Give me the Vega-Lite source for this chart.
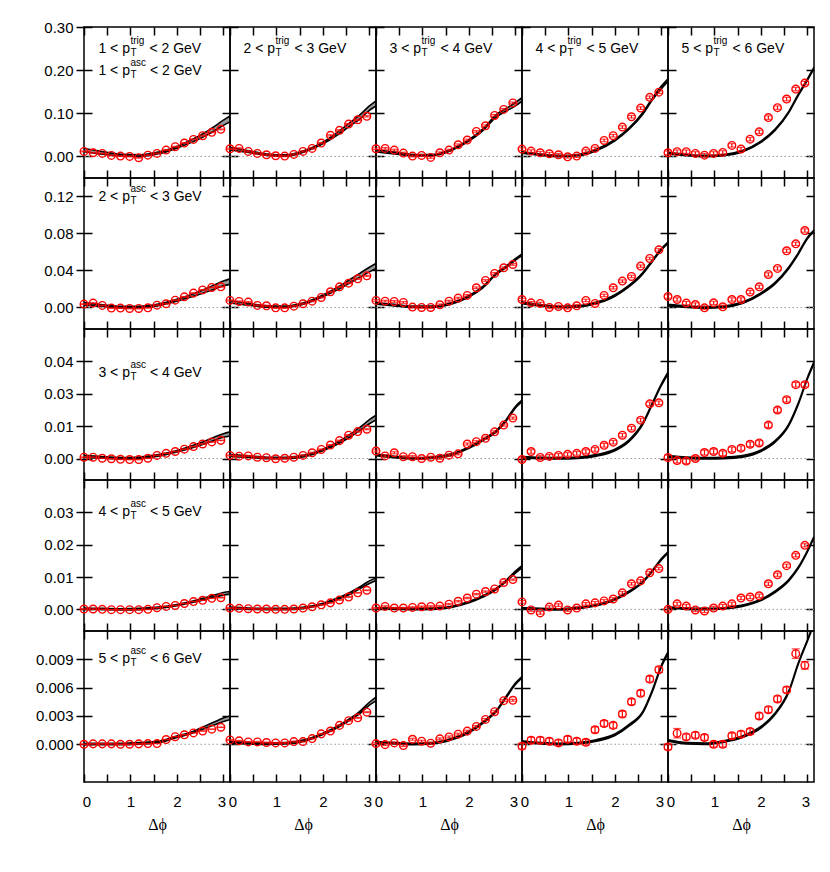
{
"$schema":"https://vega.github.io/schema/vega-lite/v6.json",
"background":"white",
"padding":{"left":34,"top":19,"right":5,"bottom":5},
"columns":5,"spacing":0,"bounds":"flush",
"config":{"view":{"stroke":"black","strokeWidth":1.5},
"axis":{"domain":false,"grid":false,"tickColor":"black","tickWidth":1.5,"tickSize":8,"labelFont":"Liberation Sans","labelFontSize":15,"labelColor":"black","labelFlush":false,"labelOverlap":false,"labelBound":false},
"text":{"font":"Liberation Sans","fontSize":14,"align":"left","baseline":"alphabetic","color":"black"}},
"datasets":{
"P":[
{"p":"11","x":0,"y":0.0116,"e":0.001},{"p":"11","x":0.196,"y":0.0085,"e":0.001},{"p":"11","x":0.393,"y":0.007,"e":0.001},{"p":"11","x":0.589,"y":0.0023,"e":0.001},{"p":"11","x":0.785,"y":0.0008,"e":0.001},{"p":"11","x":0.982,"y":0,"e":0.001},{"p":"11","x":1.178,"y":-0.003,"e":0.001},{"p":"11","x":1.374,"y":0.003,"e":0.001},{"p":"11","x":1.571,"y":0.007,"e":0.001},{"p":"11","x":1.767,"y":0.0147,"e":0.001},{"p":"11","x":1.963,"y":0.0225,"e":0.001},{"p":"11","x":2.16,"y":0.031,"e":0.001},{"p":"11","x":2.356,"y":0.0395,"e":0.001},{"p":"11","x":2.553,"y":0.048,"e":0.001},{"p":"11","x":2.749,"y":0.0558,"e":0.001},{"p":"11","x":2.945,"y":0.0628,"e":0.001},
{"p":"12","x":0,"y":0.0178,"e":0.0015},{"p":"12","x":0.196,"y":0.0186,"e":0.0015},{"p":"12","x":0.393,"y":0.0116,"e":0.0015},{"p":"12","x":0.589,"y":0.007,"e":0.0015},{"p":"12","x":0.785,"y":0.0039,"e":0.0015},{"p":"12","x":0.982,"y":0.0016,"e":0.0015},{"p":"12","x":1.178,"y":0.0008,"e":0.0015},{"p":"12","x":1.374,"y":0.0047,"e":0.0015},{"p":"12","x":1.571,"y":0.0116,"e":0.0015},{"p":"12","x":1.767,"y":0.0186,"e":0.0015},{"p":"12","x":1.963,"y":0.031,"e":0.0015},{"p":"12","x":2.16,"y":0.0488,"e":0.0015},{"p":"12","x":2.356,"y":0.0605,"e":0.0015},{"p":"12","x":2.553,"y":0.075,"e":0.0015},{"p":"12","x":2.749,"y":0.085,"e":0.0015},{"p":"12","x":2.945,"y":0.093,"e":0.0015},
{"p":"13","x":0,"y":0.0178,"e":0.002},{"p":"13","x":0.196,"y":0.0186,"e":0.002},{"p":"13","x":0.393,"y":0.0147,"e":0.002},{"p":"13","x":0.589,"y":0.0078,"e":0.002},{"p":"13","x":0.785,"y":0.0008,"e":0.002},{"p":"13","x":0.982,"y":0.0023,"e":0.002},{"p":"13","x":1.178,"y":-0.0023,"e":0.002},{"p":"13","x":1.374,"y":0.0085,"e":0.002},{"p":"13","x":1.571,"y":0.0147,"e":0.002},{"p":"13","x":1.767,"y":0.027,"e":0.002},{"p":"13","x":1.963,"y":0.038,"e":0.002},{"p":"13","x":2.16,"y":0.058,"e":0.002},{"p":"13","x":2.356,"y":0.071,"e":0.002},{"p":"13","x":2.553,"y":0.095,"e":0.002},{"p":"13","x":2.749,"y":0.109,"e":0.002},{"p":"13","x":2.945,"y":0.124,"e":0.002},
{"p":"14","x":0,"y":0.017,"e":0.003},{"p":"14","x":0.196,"y":0.0124,"e":0.003},{"p":"14","x":0.393,"y":0.0085,"e":0.003},{"p":"14","x":0.589,"y":0.0062,"e":0.003},{"p":"14","x":0.785,"y":0.0039,"e":0.003},{"p":"14","x":0.982,"y":-0.0008,"e":0.003},{"p":"14","x":1.178,"y":0.0008,"e":0.003},{"p":"14","x":1.374,"y":0.0124,"e":0.003},{"p":"14","x":1.571,"y":0.0186,"e":0.003},{"p":"14","x":1.767,"y":0.037,"e":0.003},{"p":"14","x":1.963,"y":0.048,"e":0.003},{"p":"14","x":2.16,"y":0.068,"e":0.003},{"p":"14","x":2.356,"y":0.092,"e":0.003},{"p":"14","x":2.553,"y":0.112,"e":0.003},{"p":"14","x":2.749,"y":0.137,"e":0.003},{"p":"14","x":2.945,"y":0.149,"e":0.003},
{"p":"15","x":0,"y":0.0085,"e":0.004},{"p":"15","x":0.196,"y":0.011,"e":0.004},{"p":"15","x":0.393,"y":0.011,"e":0.004},{"p":"15","x":0.589,"y":0.007,"e":0.004},{"p":"15","x":0.785,"y":0.003,"e":0.004},{"p":"15","x":0.982,"y":0.007,"e":0.004},{"p":"15","x":1.178,"y":0.0093,"e":0.004},{"p":"15","x":1.374,"y":0.0256,"e":0.004},{"p":"15","x":1.571,"y":0.017,"e":0.004},{"p":"15","x":1.767,"y":0.04,"e":0.004},{"p":"15","x":1.963,"y":0.057,"e":0.004},{"p":"15","x":2.16,"y":0.09,"e":0.004},{"p":"15","x":2.356,"y":0.113,"e":0.004},{"p":"15","x":2.553,"y":0.133,"e":0.004},{"p":"15","x":2.749,"y":0.156,"e":0.004},{"p":"15","x":2.945,"y":0.17,"e":0.004},
{"p":"21","x":0,"y":0.0036,"e":0.0004},{"p":"21","x":0.196,"y":0.0047,"e":0.0004},{"p":"21","x":0.393,"y":0.0022,"e":0.0004},{"p":"21","x":0.589,"y":-0.0007,"e":0.0004},{"p":"21","x":0.785,"y":-0.0007,"e":0.0004},{"p":"21","x":0.982,"y":-0.0011,"e":0.0004},{"p":"21","x":1.178,"y":-0.0011,"e":0.0004},{"p":"21","x":1.374,"y":-0.0004,"e":0.0004},{"p":"21","x":1.571,"y":0.0025,"e":0.0004},{"p":"21","x":1.767,"y":0.004,"e":0.0004},{"p":"21","x":1.963,"y":0.0079,"e":0.0004},{"p":"21","x":2.16,"y":0.0115,"e":0.0004},{"p":"21","x":2.356,"y":0.0155,"e":0.0004},{"p":"21","x":2.553,"y":0.019,"e":0.0004},{"p":"21","x":2.749,"y":0.0216,"e":0.0004},{"p":"21","x":2.945,"y":0.0223,"e":0.0004},
{"p":"22","x":0,"y":0.0076,"e":0.0006},{"p":"22","x":0.196,"y":0.0065,"e":0.0006},{"p":"22","x":0.393,"y":0.0058,"e":0.0006},{"p":"22","x":0.589,"y":0.0022,"e":0.0006},{"p":"22","x":0.785,"y":0.0018,"e":0.0006},{"p":"22","x":0.982,"y":-0.0004,"e":0.0006},{"p":"22","x":1.178,"y":-0.0004,"e":0.0006},{"p":"22","x":1.374,"y":0.0014,"e":0.0006},{"p":"22","x":1.571,"y":0.004,"e":0.0006},{"p":"22","x":1.767,"y":0.0068,"e":0.0006},{"p":"22","x":1.963,"y":0.0108,"e":0.0006},{"p":"22","x":2.16,"y":0.017,"e":0.0006},{"p":"22","x":2.356,"y":0.0223,"e":0.0006},{"p":"22","x":2.553,"y":0.0263,"e":0.0006},{"p":"22","x":2.749,"y":0.031,"e":0.0006},{"p":"22","x":2.945,"y":0.0342,"e":0.0006},
{"p":"23","x":0,"y":0.0076,"e":0.0009},{"p":"23","x":0.196,"y":0.0068,"e":0.0009},{"p":"23","x":0.393,"y":0.0065,"e":0.0009},{"p":"23","x":0.589,"y":0.0054,"e":0.0009},{"p":"23","x":0.785,"y":0.0004,"e":0.0009},{"p":"23","x":0.982,"y":0,"e":0.0009},{"p":"23","x":1.178,"y":0,"e":0.0009},{"p":"23","x":1.374,"y":0.0029,"e":0.0009},{"p":"23","x":1.571,"y":0.0068,"e":0.0009},{"p":"23","x":1.767,"y":0.0101,"e":0.0009},{"p":"23","x":1.963,"y":0.013,"e":0.0009},{"p":"23","x":2.16,"y":0.0213,"e":0.0009},{"p":"23","x":2.356,"y":0.0292,"e":0.0009},{"p":"23","x":2.553,"y":0.0368,"e":0.0009},{"p":"23","x":2.749,"y":0.0429,"e":0.0009},{"p":"23","x":2.945,"y":0.0465,"e":0.0009},
{"p":"24","x":0,"y":0.0086,"e":0.0013},{"p":"24","x":0.196,"y":0.005,"e":0.0013},{"p":"24","x":0.393,"y":0.0043,"e":0.0013},{"p":"24","x":0.589,"y":0,"e":0.0013},{"p":"24","x":0.785,"y":0.0011,"e":0.0013},{"p":"24","x":0.982,"y":-0.0004,"e":0.0013},{"p":"24","x":1.178,"y":0.0018,"e":0.0013},{"p":"24","x":1.374,"y":0.0076,"e":0.0013},{"p":"24","x":1.571,"y":0.0043,"e":0.0013},{"p":"24","x":1.767,"y":0.013,"e":0.0013},{"p":"24","x":1.963,"y":0.0213,"e":0.0013},{"p":"24","x":2.16,"y":0.0285,"e":0.0013},{"p":"24","x":2.356,"y":0.0335,"e":0.0013},{"p":"24","x":2.553,"y":0.0447,"e":0.0013},{"p":"24","x":2.749,"y":0.053,"e":0.0013},{"p":"24","x":2.945,"y":0.0623,"e":0.0013},
{"p":"25","x":0,"y":0.0119,"e":0.0018},{"p":"25","x":0.196,"y":0.0086,"e":0.0018},{"p":"25","x":0.393,"y":0.0047,"e":0.0018},{"p":"25","x":0.589,"y":0.0032,"e":0.0018},{"p":"25","x":0.785,"y":-0.0004,"e":0.0018},{"p":"25","x":0.982,"y":0.005,"e":0.0018},{"p":"25","x":1.178,"y":0.0007,"e":0.0018},{"p":"25","x":1.374,"y":0.0086,"e":0.0018},{"p":"25","x":1.571,"y":0.0086,"e":0.0018},{"p":"25","x":1.767,"y":0.0166,"e":0.0018},{"p":"25","x":1.963,"y":0.0223,"e":0.0018},{"p":"25","x":2.16,"y":0.0357,"e":0.0018},{"p":"25","x":2.356,"y":0.0422,"e":0.0018},{"p":"25","x":2.553,"y":0.0613,"e":0.0018},{"p":"25","x":2.749,"y":0.0688,"e":0.0018},{"p":"25","x":2.945,"y":0.0832,"e":0.0018},
{"p":"31","x":0,"y":0.0005,"e":0.0001},{"p":"31","x":0.196,"y":0.0005,"e":0.0001},{"p":"31","x":0.393,"y":0.0001,"e":0.0001},{"p":"31","x":0.589,"y":-0.0001,"e":0.0001},{"p":"31","x":0.785,"y":-0.0003,"e":0.0001},{"p":"31","x":0.982,"y":-0.0004,"e":0.0001},{"p":"31","x":1.178,"y":-0.0004,"e":0.0001},{"p":"31","x":1.374,"y":0.0001,"e":0.0001},{"p":"31","x":1.571,"y":0.0012,"e":0.0001},{"p":"31","x":1.767,"y":0.002,"e":0.0001},{"p":"31","x":1.963,"y":0.0027,"e":0.0001},{"p":"31","x":2.16,"y":0.0036,"e":0.0001},{"p":"31","x":2.356,"y":0.0046,"e":0.0001},{"p":"31","x":2.553,"y":0.0056,"e":0.0001},{"p":"31","x":2.749,"y":0.0064,"e":0.0001},{"p":"31","x":2.945,"y":0.007,"e":0.0001},
{"p":"32","x":0,"y":0.0012,"e":0.0002},{"p":"32","x":0.196,"y":0.0009,"e":0.0002},{"p":"32","x":0.393,"y":0.001,"e":0.0002},{"p":"32","x":0.589,"y":0.0005,"e":0.0002},{"p":"32","x":0.785,"y":0.0003,"e":0.0002},{"p":"32","x":0.982,"y":-0.0001,"e":0.0002},{"p":"32","x":1.178,"y":0.0001,"e":0.0002},{"p":"32","x":1.374,"y":0.0005,"e":0.0002},{"p":"32","x":1.571,"y":0.0012,"e":0.0002},{"p":"32","x":1.767,"y":0.0022,"e":0.0002},{"p":"32","x":1.963,"y":0.0035,"e":0.0002},{"p":"32","x":2.16,"y":0.0052,"e":0.0002},{"p":"32","x":2.356,"y":0.0069,"e":0.0002},{"p":"32","x":2.553,"y":0.009,"e":0.0002},{"p":"32","x":2.749,"y":0.0104,"e":0.0002},{"p":"32","x":2.945,"y":0.0113,"e":0.0002},
{"p":"33","x":0,"y":0.0029,"e":0.0004},{"p":"33","x":0.196,"y":0.001,"e":0.0004},{"p":"33","x":0.393,"y":0.0022,"e":0.0004},{"p":"33","x":0.589,"y":0.0007,"e":0.0004},{"p":"33","x":0.785,"y":0.0007,"e":0.0004},{"p":"33","x":0.982,"y":0,"e":0.0004},{"p":"33","x":1.178,"y":0.0005,"e":0.0004},{"p":"33","x":1.374,"y":0.0001,"e":0.0004},{"p":"33","x":1.571,"y":0.0013,"e":0.0004},{"p":"33","x":1.767,"y":0.0018,"e":0.0004},{"p":"33","x":1.963,"y":0.0056,"e":0.0004},{"p":"33","x":2.16,"y":0.0065,"e":0.0004},{"p":"33","x":2.356,"y":0.0078,"e":0.0004},{"p":"33","x":2.553,"y":0.0103,"e":0.0004},{"p":"33","x":2.749,"y":0.0129,"e":0.0004},{"p":"33","x":2.945,"y":0.0156,"e":0.0004},
{"p":"34","x":0,"y":-0.0004,"e":0.0007},{"p":"34","x":0.196,"y":0.0027,"e":0.0007},{"p":"34","x":0.393,"y":0.0004,"e":0.0007},{"p":"34","x":0.589,"y":0.0008,"e":0.0007},{"p":"34","x":0.785,"y":0.0012,"e":0.0007},{"p":"34","x":0.982,"y":0.0016,"e":0.0007},{"p":"34","x":1.178,"y":0.002,"e":0.0007},{"p":"34","x":1.374,"y":0.0027,"e":0.0007},{"p":"34","x":1.571,"y":0.0035,"e":0.0007},{"p":"34","x":1.767,"y":0.0051,"e":0.0007},{"p":"34","x":1.963,"y":0.0063,"e":0.0007},{"p":"34","x":2.16,"y":0.009,"e":0.0007},{"p":"34","x":2.356,"y":0.0117,"e":0.0007},{"p":"34","x":2.553,"y":0.0148,"e":0.0007},{"p":"34","x":2.749,"y":0.0211,"e":0.0007},{"p":"34","x":2.945,"y":0.0215,"e":0.0007},
{"p":"35","x":0,"y":0.0004,"e":0.0009},{"p":"35","x":0.196,"y":-0.0008,"e":0.0009},{"p":"35","x":0.393,"y":-0.001,"e":0.0009},{"p":"35","x":0.589,"y":0,"e":0.0009},{"p":"35","x":0.785,"y":0.0023,"e":0.0009},{"p":"35","x":0.982,"y":0.0027,"e":0.0009},{"p":"35","x":1.178,"y":0.002,"e":0.0009},{"p":"35","x":1.374,"y":0.0035,"e":0.0009},{"p":"35","x":1.571,"y":0.004,"e":0.0009},{"p":"35","x":1.767,"y":0.0055,"e":0.0009},{"p":"35","x":1.963,"y":0.006,"e":0.0009},{"p":"35","x":2.16,"y":0.0129,"e":0.0009},{"p":"35","x":2.356,"y":0.0187,"e":0.0009},{"p":"35","x":2.553,"y":0.0227,"e":0.0009},{"p":"35","x":2.749,"y":0.0285,"e":0.0009},{"p":"35","x":2.945,"y":0.0285,"e":0.0009},
{"p":"41","x":0,"y":0.0001,"e":0.00005},{"p":"41","x":0.196,"y":0.0001,"e":0.00005},{"p":"41","x":0.393,"y":0,"e":0.00005},{"p":"41","x":0.589,"y":-0.0001,"e":0.00005},{"p":"41","x":0.785,"y":-0.0001,"e":0.00005},{"p":"41","x":0.982,"y":-0.0001,"e":0.00005},{"p":"41","x":1.178,"y":-0.0001,"e":0.00005},{"p":"41","x":1.374,"y":0,"e":0.00005},{"p":"41","x":1.571,"y":0.0005,"e":0.00005},{"p":"41","x":1.767,"y":0.0009,"e":0.00005},{"p":"41","x":1.963,"y":0.0012,"e":0.00005},{"p":"41","x":2.16,"y":0.0018,"e":0.00005},{"p":"41","x":2.356,"y":0.0024,"e":0.00005},{"p":"41","x":2.553,"y":0.0028,"e":0.00005},{"p":"41","x":2.749,"y":0.0034,"e":0.00005},{"p":"41","x":2.945,"y":0.0036,"e":0.00005},
{"p":"42","x":0,"y":0.0004,"e":0.0001},{"p":"42","x":0.196,"y":0.0003,"e":0.0001},{"p":"42","x":0.393,"y":0.0002,"e":0.0001},{"p":"42","x":0.589,"y":0.0001,"e":0.0001},{"p":"42","x":0.785,"y":0.0001,"e":0.0001},{"p":"42","x":0.982,"y":0,"e":0.0001},{"p":"42","x":1.178,"y":0,"e":0.0001},{"p":"42","x":1.374,"y":0.0001,"e":0.0001},{"p":"42","x":1.571,"y":0.0004,"e":0.0001},{"p":"42","x":1.767,"y":0.0008,"e":0.0001},{"p":"42","x":1.963,"y":0.0014,"e":0.0001},{"p":"42","x":2.16,"y":0.002,"e":0.0001},{"p":"42","x":2.356,"y":0.0029,"e":0.0001},{"p":"42","x":2.553,"y":0.0038,"e":0.0001},{"p":"42","x":2.749,"y":0.0051,"e":0.0001},{"p":"42","x":2.945,"y":0.0059,"e":0.0001},
{"p":"43","x":0,"y":0.0004,"e":0.0002},{"p":"43","x":0.196,"y":0.0009,"e":0.0002},{"p":"43","x":0.393,"y":0.0004,"e":0.0002},{"p":"43","x":0.589,"y":0.0004,"e":0.0002},{"p":"43","x":0.785,"y":0.0006,"e":0.0002},{"p":"43","x":0.982,"y":0.0008,"e":0.0002},{"p":"43","x":1.178,"y":0.0009,"e":0.0002},{"p":"43","x":1.374,"y":0.001,"e":0.0002},{"p":"43","x":1.571,"y":0.0016,"e":0.0002},{"p":"43","x":1.767,"y":0.0025,"e":0.0002},{"p":"43","x":1.963,"y":0.0035,"e":0.0002},{"p":"43","x":2.16,"y":0.0047,"e":0.0002},{"p":"43","x":2.356,"y":0.0055,"e":0.0002},{"p":"43","x":2.553,"y":0.0063,"e":0.0002},{"p":"43","x":2.749,"y":0.0083,"e":0.0002},{"p":"43","x":2.945,"y":0.0092,"e":0.0002},
{"p":"44","x":0,"y":0.0023,"e":0.0004},{"p":"44","x":0.196,"y":-0.0002,"e":0.0004},{"p":"44","x":0.393,"y":-0.0011,"e":0.0004},{"p":"44","x":0.589,"y":0.0007,"e":0.0004},{"p":"44","x":0.785,"y":0.0013,"e":0.0004},{"p":"44","x":0.982,"y":-0.0002,"e":0.0004},{"p":"44","x":1.178,"y":0.0004,"e":0.0004},{"p":"44","x":1.374,"y":0.0017,"e":0.0004},{"p":"44","x":1.571,"y":0.002,"e":0.0004},{"p":"44","x":1.767,"y":0.0026,"e":0.0004},{"p":"44","x":1.963,"y":0.0032,"e":0.0004},{"p":"44","x":2.16,"y":0.0051,"e":0.0004},{"p":"44","x":2.356,"y":0.0079,"e":0.0004},{"p":"44","x":2.553,"y":0.0088,"e":0.0004},{"p":"44","x":2.749,"y":0.0113,"e":0.0004},{"p":"44","x":2.945,"y":0.0126,"e":0.0004},
{"p":"45","x":0,"y":0,"e":0.0005},{"p":"45","x":0.196,"y":0.0017,"e":0.0005},{"p":"45","x":0.393,"y":0.001,"e":0.0005},{"p":"45","x":0.589,"y":-0.0002,"e":0.0005},{"p":"45","x":0.785,"y":-0.0005,"e":0.0005},{"p":"45","x":0.982,"y":0.0004,"e":0.0005},{"p":"45","x":1.178,"y":0.001,"e":0.0005},{"p":"45","x":1.374,"y":0.0017,"e":0.0005},{"p":"45","x":1.571,"y":0.0035,"e":0.0005},{"p":"45","x":1.767,"y":0.0038,"e":0.0005},{"p":"45","x":1.963,"y":0.0042,"e":0.0005},{"p":"45","x":2.16,"y":0.0079,"e":0.0005},{"p":"45","x":2.356,"y":0.0107,"e":0.0005},{"p":"45","x":2.553,"y":0.0135,"e":0.0005},{"p":"45","x":2.749,"y":0.0167,"e":0.0005},{"p":"45","x":2.945,"y":0.0198,"e":0.0005},
{"p":"51","x":0,"y":0,"e":0.00002},{"p":"51","x":0.196,"y":0.00004,"e":0.00002},{"p":"51","x":0.393,"y":0.00004,"e":0.00002},{"p":"51","x":0.589,"y":0.00004,"e":0.00002},{"p":"51","x":0.785,"y":0,"e":0.00002},{"p":"51","x":0.982,"y":0,"e":0.00002},{"p":"51","x":1.178,"y":0.00004,"e":0.00002},{"p":"51","x":1.374,"y":0.00007,"e":0.00002},{"p":"51","x":1.571,"y":0.00007,"e":0.00002},{"p":"51","x":1.767,"y":0.0005,"e":0.00002},{"p":"51","x":1.963,"y":0.0008,"e":0.00002},{"p":"51","x":2.16,"y":0.001,"e":0.00002},{"p":"51","x":2.356,"y":0.0012,"e":0.00002},{"p":"51","x":2.553,"y":0.0014,"e":0.00002},{"p":"51","x":2.749,"y":0.0016,"e":0.00002},{"p":"51","x":2.945,"y":0.0018,"e":0.00002},
{"p":"52","x":0,"y":0.00046,"e":0.00005},{"p":"52","x":0.196,"y":0.00036,"e":0.00005},{"p":"52","x":0.393,"y":0.00025,"e":0.00005},{"p":"52","x":0.589,"y":0.00025,"e":0.00005},{"p":"52","x":0.785,"y":0.00018,"e":0.00005},{"p":"52","x":0.982,"y":0.00014,"e":0.00005},{"p":"52","x":1.178,"y":0.00014,"e":0.00005},{"p":"52","x":1.374,"y":0.00028,"e":0.00005},{"p":"52","x":1.571,"y":0.00028,"e":0.00005},{"p":"52","x":1.767,"y":0.0006,"e":0.00005},{"p":"52","x":1.963,"y":0.0011,"e":0.00005},{"p":"52","x":2.16,"y":0.0014,"e":0.00005},{"p":"52","x":2.356,"y":0.002,"e":0.00005},{"p":"52","x":2.553,"y":0.0025,"e":0.00005},{"p":"52","x":2.749,"y":0.0028,"e":0.00005},{"p":"52","x":2.945,"y":0.0034,"e":0.00005},
{"p":"53","x":0,"y":0.00007,"e":0.0001},{"p":"53","x":0.196,"y":-0.00004,"e":0.0001},{"p":"53","x":0.393,"y":0.00014,"e":0.0001},{"p":"53","x":0.589,"y":-0.00014,"e":0.0001},{"p":"53","x":0.785,"y":0.00053,"e":0.0001},{"p":"53","x":0.982,"y":0.00032,"e":0.0001},{"p":"53","x":1.178,"y":0.00011,"e":0.0001},{"p":"53","x":1.374,"y":0.00057,"e":0.0001},{"p":"53","x":1.571,"y":0.00078,"e":0.0001},{"p":"53","x":1.767,"y":0.00107,"e":0.0001},{"p":"53","x":1.963,"y":0.00139,"e":0.0001},{"p":"53","x":2.16,"y":0.00189,"e":0.0001},{"p":"53","x":2.356,"y":0.00263,"e":0.0001},{"p":"53","x":2.553,"y":0.00345,"e":0.0001},{"p":"53","x":2.749,"y":0.00462,"e":0.0001},{"p":"53","x":2.945,"y":0.00466,"e":0.0001},
{"p":"54","x":0,"y":-0.0002,"e":0.0003},{"p":"54","x":0.196,"y":0.00043,"e":0.0003},{"p":"54","x":0.393,"y":0.00043,"e":0.0003},{"p":"54","x":0.589,"y":0.00032,"e":0.0003},{"p":"54","x":0.785,"y":0.00014,"e":0.0003},{"p":"54","x":0.982,"y":0.00053,"e":0.0003},{"p":"54","x":1.178,"y":0.00032,"e":0.0003},{"p":"54","x":1.374,"y":0.00021,"e":0.0003},{"p":"54","x":1.571,"y":0.00153,"e":0.0003},{"p":"54","x":1.767,"y":0.0022,"e":0.0003},{"p":"54","x":1.963,"y":0.002,"e":0.0003},{"p":"54","x":2.16,"y":0.0032,"e":0.0003},{"p":"54","x":2.356,"y":0.0045,"e":0.0003},{"p":"54","x":2.553,"y":0.0054,"e":0.0003},{"p":"54","x":2.749,"y":0.0069,"e":0.0003},{"p":"54","x":2.945,"y":0.0079,"e":0.0003},
{"p":"55","x":0,"y":-0.00028,"e":0.0003},{"p":"55","x":0.196,"y":0.00117,"e":0.0005},{"p":"55","x":0.393,"y":0.00078,"e":0.0003},{"p":"55","x":0.589,"y":0.00096,"e":0.0003},{"p":"55","x":0.785,"y":0.00071,"e":0.0003},{"p":"55","x":0.982,"y":0,"e":0.0003},{"p":"55","x":1.178,"y":0,"e":0.0003},{"p":"55","x":1.374,"y":0.00089,"e":0.0003},{"p":"55","x":1.571,"y":0.00107,"e":0.0003},{"p":"55","x":1.767,"y":0.00135,"e":0.0003},{"p":"55","x":1.963,"y":0.003,"e":0.0003},{"p":"55","x":2.16,"y":0.00366,"e":0.0003},{"p":"55","x":2.356,"y":0.0048,"e":0.0003},{"p":"55","x":2.553,"y":0.00576,"e":0.0003},{"p":"55","x":2.749,"y":0.0096,"e":0.0005},{"p":"55","x":2.945,"y":0.00836,"e":0.0004}
],
"C":[
{"p":"11","x":0,"lo":0.011,"hi":0.019},{"p":"11","x":0.4,"lo":0.005,"hi":0.011},{"p":"11","x":0.8,"lo":0.001,"hi":0.005},{"p":"11","x":1.2,"lo":0,"hi":0.004},{"p":"11","x":1.6,"lo":0.006,"hi":0.01},{"p":"11","x":2,"lo":0.019,"hi":0.023},{"p":"11","x":2.3,"lo":0.032,"hi":0.038},{"p":"11","x":2.6,"lo":0.047,"hi":0.055},{"p":"11","x":2.8,"lo":0.059,"hi":0.069},{"p":"11","x":3,"lo":0.072,"hi":0.084},{"p":"11","x":3.1416,"lo":0.08,"hi":0.094},
{"p":"12","x":0,"lo":0.015,"hi":0.021},{"p":"12","x":0.4,"lo":0.009,"hi":0.013},{"p":"12","x":0.8,"lo":0.0024,"hi":0.0056},{"p":"12","x":1.2,"lo":0.0004,"hi":0.0036},{"p":"12","x":1.6,"lo":0.0104,"hi":0.0136},{"p":"12","x":2,"lo":0.029,"hi":0.033},{"p":"12","x":2.3,"lo":0.049,"hi":0.055},{"p":"12","x":2.6,"lo":0.072,"hi":0.08},{"p":"12","x":2.8,"lo":0.087,"hi":0.097},{"p":"12","x":3,"lo":0.107,"hi":0.117},{"p":"12","x":3.1416,"lo":0.117,"hi":0.129},
{"p":"13","x":0,"lo":0.0105,"hi":0.0155},{"p":"13","x":0.4,"lo":0.006,"hi":0.01},{"p":"13","x":0.8,"lo":0.0014,"hi":0.0046},{"p":"13","x":1.2,"lo":0.0014,"hi":0.0046},{"p":"13","x":1.6,"lo":0.0124,"hi":0.0156},{"p":"13","x":2,"lo":0.0354,"hi":0.0386},{"p":"13","x":2.3,"lo":0.06,"hi":0.064},{"p":"13","x":2.6,"lo":0.092,"hi":0.098},{"p":"13","x":2.8,"lo":0.105,"hi":0.111},{"p":"13","x":3,"lo":0.117,"hi":0.125},{"p":"13","x":3.1416,"lo":0.128,"hi":0.136},
{"p":"14","x":0,"lo":0.0074,"hi":0.0106},{"p":"14","x":0.4,"lo":0.0024,"hi":0.0056},{"p":"14","x":0.8,"lo":-0.0006,"hi":0.0026},{"p":"14","x":1.2,"lo":0.0014,"hi":0.0046},{"p":"14","x":1.6,"lo":0.0134,"hi":0.0166},{"p":"14","x":2,"lo":0.0364,"hi":0.0396},{"p":"14","x":2.3,"lo":0.0624,"hi":0.0656},{"p":"14","x":2.6,"lo":0.098,"hi":0.102},{"p":"14","x":2.8,"lo":0.13,"hi":0.134},{"p":"14","x":3,"lo":0.157,"hi":0.163},{"p":"14","x":3.1416,"lo":0.174,"hi":0.18},
{"p":"15","x":0,"lo":0.0064,"hi":0.0096},{"p":"15","x":0.4,"lo":0.0014,"hi":0.0046},{"p":"15","x":0.8,"lo":-0.0006,"hi":0.0026},{"p":"15","x":1.2,"lo":0.0014,"hi":0.0046},{"p":"15","x":1.6,"lo":0.0104,"hi":0.0136},{"p":"15","x":2,"lo":0.0324,"hi":0.0356},{"p":"15","x":2.3,"lo":0.0594,"hi":0.0626},{"p":"15","x":2.6,"lo":0.1014,"hi":0.1046},{"p":"15","x":2.8,"lo":0.1404,"hi":0.1436},{"p":"15","x":3,"lo":0.1764,"hi":0.1796},{"p":"15","x":3.1416,"lo":0.2034,"hi":0.2066},
{"p":"21","x":0,"lo":0.0028,"hi":0.0052},{"p":"21","x":0.4,"lo":0.001,"hi":0.003},{"p":"21","x":0.8,"lo":-0.0004,"hi":0.0012},{"p":"21","x":1.2,"lo":-0.0003,"hi":0.0013},{"p":"21","x":1.6,"lo":0.002,"hi":0.0036},{"p":"21","x":2,"lo":0.0068,"hi":0.0088},{"p":"21","x":2.3,"lo":0.0112,"hi":0.0138},{"p":"21","x":2.6,"lo":0.0162,"hi":0.0198},{"p":"21","x":2.8,"lo":0.0198,"hi":0.0242},{"p":"21","x":3,"lo":0.0234,"hi":0.0286},{"p":"21","x":3.1416,"lo":0.025,"hi":0.031},
{"p":"22","x":0,"lo":0.0048,"hi":0.0072},{"p":"22","x":0.4,"lo":0.0023,"hi":0.0043},{"p":"22","x":0.8,"lo":0.0002,"hi":0.0018},{"p":"22","x":1.2,"lo":0,"hi":0.0016},{"p":"22","x":1.6,"lo":0.0037,"hi":0.0053},{"p":"22","x":2,"lo":0.0115,"hi":0.0135},{"p":"22","x":2.3,"lo":0.0187,"hi":0.0213},{"p":"22","x":2.6,"lo":0.0272,"hi":0.0308},{"p":"22","x":2.8,"lo":0.0328,"hi":0.0372},{"p":"22","x":3,"lo":0.0385,"hi":0.0435},{"p":"22","x":3.1416,"lo":0.0422,"hi":0.0478},
{"p":"23","x":0,"lo":0.0036,"hi":0.0054},{"p":"23","x":0.4,"lo":0.0017,"hi":0.0033},{"p":"23","x":0.8,"lo":0,"hi":0.0016},{"p":"23","x":1.2,"lo":0,"hi":0.0016},{"p":"23","x":1.6,"lo":0.0032,"hi":0.0048},{"p":"23","x":2,"lo":0.0112,"hi":0.0128},{"p":"23","x":2.3,"lo":0.0212,"hi":0.0228},{"p":"23","x":2.6,"lo":0.0362,"hi":0.0378},{"p":"23","x":2.8,"lo":0.0432,"hi":0.0448},{"p":"23","x":3,"lo":0.0512,"hi":0.0528},{"p":"23","x":3.1416,"lo":0.0562,"hi":0.0578},
{"p":"24","x":0,"lo":0.0042,"hi":0.0058},{"p":"24","x":0.4,"lo":0.0015,"hi":0.0031},{"p":"24","x":0.8,"lo":-0.0003,"hi":0.0013},{"p":"24","x":1.2,"lo":0.0002,"hi":0.0018},{"p":"24","x":1.6,"lo":0.0042,"hi":0.0058},{"p":"24","x":2,"lo":0.0122,"hi":0.0138},{"p":"24","x":2.3,"lo":0.0222,"hi":0.0238},{"p":"24","x":2.6,"lo":0.0362,"hi":0.0378},{"p":"24","x":2.8,"lo":0.0492,"hi":0.0508},{"p":"24","x":3,"lo":0.0622,"hi":0.0638},{"p":"24","x":3.1416,"lo":0.0692,"hi":0.0708},
{"p":"25","x":0,"lo":0.0017,"hi":0.0033},{"p":"25","x":0.4,"lo":0,"hi":0.0016},{"p":"25","x":0.8,"lo":-0.0007,"hi":0.0009},{"p":"25","x":1.2,"lo":0,"hi":0.0016},{"p":"25","x":1.6,"lo":0.0042,"hi":0.0058},{"p":"25","x":2,"lo":0.0142,"hi":0.0158},{"p":"25","x":2.3,"lo":0.0252,"hi":0.0268},{"p":"25","x":2.6,"lo":0.0422,"hi":0.0438},{"p":"25","x":2.8,"lo":0.0572,"hi":0.0588},{"p":"25","x":3,"lo":0.0742,"hi":0.0758},{"p":"25","x":3.1416,"lo":0.0822,"hi":0.0838},
{"p":"31","x":0,"lo":0.0004,"hi":0.0012},{"p":"31","x":0.4,"lo":0.0001,"hi":0.0007},{"p":"31","x":0.8,"lo":-0.0002,"hi":0.0004},{"p":"31","x":1.2,"lo":0,"hi":0.0006},{"p":"31","x":1.6,"lo":0.0009,"hi":0.0015},{"p":"31","x":2,"lo":0.0025,"hi":0.0031},{"p":"31","x":2.3,"lo":0.004,"hi":0.0048},{"p":"31","x":2.6,"lo":0.0057,"hi":0.0067},{"p":"31","x":2.8,"lo":0.007,"hi":0.0082},{"p":"31","x":3,"lo":0.0082,"hi":0.0096},{"p":"31","x":3.1416,"lo":0.0087,"hi":0.0103},
{"p":"32","x":0,"lo":0.0008,"hi":0.0016},{"p":"32","x":0.4,"lo":0.0004,"hi":0.001},{"p":"32","x":0.8,"lo":-0.0001,"hi":0.0005},{"p":"32","x":1.2,"lo":-0.0001,"hi":0.0005},{"p":"32","x":1.6,"lo":0.0007,"hi":0.0013},{"p":"32","x":2,"lo":0.003,"hi":0.0036},{"p":"32","x":2.3,"lo":0.0054,"hi":0.0062},{"p":"32","x":2.6,"lo":0.0085,"hi":0.0095},{"p":"32","x":2.8,"lo":0.0109,"hi":0.0121},{"p":"32","x":3,"lo":0.0134,"hi":0.015},{"p":"32","x":3.1416,"lo":0.0149,"hi":0.0167},
{"p":"33","x":0,"lo":0.0011,"hi":0.0017},{"p":"33","x":0.4,"lo":0.0003,"hi":0.0009},{"p":"33","x":0.8,"lo":-0.0002,"hi":0.0004},{"p":"33","x":1.2,"lo":0,"hi":0.0006},{"p":"33","x":1.6,"lo":0.0011,"hi":0.0017},{"p":"33","x":2,"lo":0.0039,"hi":0.0045},{"p":"33","x":2.3,"lo":0.0069,"hi":0.0075},{"p":"33","x":2.6,"lo":0.0105,"hi":0.0111},{"p":"33","x":2.8,"lo":0.0144,"hi":0.015},{"p":"33","x":3,"lo":0.0195,"hi":0.0201},{"p":"33","x":3.1416,"lo":0.0219,"hi":0.0225},
{"p":"34","x":0,"lo":0.0002,"hi":0.0008},{"p":"34","x":0.4,"lo":-0.0001,"hi":0.0005},{"p":"34","x":0.8,"lo":-0.0002,"hi":0.0004},{"p":"34","x":1.2,"lo":0,"hi":0.0006},{"p":"34","x":1.6,"lo":0.0009,"hi":0.0015},{"p":"34","x":2,"lo":0.003,"hi":0.0036},{"p":"34","x":2.3,"lo":0.0065,"hi":0.0071},{"p":"34","x":2.6,"lo":0.0132,"hi":0.0138},{"p":"34","x":2.8,"lo":0.0207,"hi":0.0213},{"p":"34","x":3,"lo":0.0282,"hi":0.0288},{"p":"34","x":3.1416,"lo":0.0327,"hi":0.0333},
{"p":"35","x":0,"lo":0.0004,"hi":0.001},{"p":"35","x":0.4,"lo":0,"hi":0.0006},{"p":"35","x":0.8,"lo":-0.0002,"hi":0.0004},{"p":"35","x":1.2,"lo":-0.0001,"hi":0.0005},{"p":"35","x":1.6,"lo":0.0005,"hi":0.0011},{"p":"35","x":2,"lo":0.0027,"hi":0.0033},{"p":"35","x":2.3,"lo":0.0062,"hi":0.0068},{"p":"35","x":2.6,"lo":0.0127,"hi":0.0133},{"p":"35","x":2.8,"lo":0.0207,"hi":0.0213},{"p":"35","x":3,"lo":0.0307,"hi":0.0313},{"p":"35","x":3.1416,"lo":0.0367,"hi":0.0373},
{"p":"41","x":0,"lo":0,"hi":0.0004},{"p":"41","x":0.4,"lo":-0.0001,"hi":0.0003},{"p":"41","x":0.8,"lo":-0.0002,"hi":0.0002},{"p":"41","x":1.2,"lo":-0.0001,"hi":0.0003},{"p":"41","x":1.6,"lo":0.0003,"hi":0.0007},{"p":"41","x":2,"lo":0.0011,"hi":0.0015},{"p":"41","x":2.3,"lo":0.002,"hi":0.0024},{"p":"41","x":2.6,"lo":0.003,"hi":0.0036},{"p":"41","x":2.8,"lo":0.0038,"hi":0.0044},{"p":"41","x":3,"lo":0.0044,"hi":0.0052},{"p":"41","x":3.1416,"lo":0.0047,"hi":0.0055},
{"p":"42","x":0,"lo":0.0003,"hi":0.0007},{"p":"42","x":0.4,"lo":0,"hi":0.0004},{"p":"42","x":0.8,"lo":-0.0001,"hi":0.0003},{"p":"42","x":1.2,"lo":-0.0001,"hi":0.0003},{"p":"42","x":1.6,"lo":0.0003,"hi":0.0007},{"p":"42","x":2,"lo":0.0015,"hi":0.0019},{"p":"42","x":2.3,"lo":0.003,"hi":0.0034},{"p":"42","x":2.6,"lo":0.0048,"hi":0.0054},{"p":"42","x":2.8,"lo":0.0064,"hi":0.007},{"p":"42","x":3,"lo":0.008,"hi":0.0088},{"p":"42","x":3.1416,"lo":0.0089,"hi":0.0097},
{"p":"43","x":0,"lo":0.0001,"hi":0.0005},{"p":"43","x":0.4,"lo":0,"hi":0.0004},{"p":"43","x":0.8,"lo":-0.0001,"hi":0.0003},{"p":"43","x":1.2,"lo":0,"hi":0.0004},{"p":"43","x":1.6,"lo":0.0005,"hi":0.0009},{"p":"43","x":2,"lo":0.002,"hi":0.0024},{"p":"43","x":2.3,"lo":0.0038,"hi":0.0042},{"p":"43","x":2.6,"lo":0.0062,"hi":0.0066},{"p":"43","x":2.8,"lo":0.0086,"hi":0.009},{"p":"43","x":3,"lo":0.0112,"hi":0.0118},{"p":"43","x":3.1416,"lo":0.0129,"hi":0.0135},
{"p":"44","x":0,"lo":0.0001,"hi":0.0005},{"p":"44","x":0.4,"lo":-0.0001,"hi":0.0003},{"p":"44","x":0.8,"lo":-0.0002,"hi":0.0002},{"p":"44","x":1.2,"lo":0.0002,"hi":0.0006},{"p":"44","x":1.6,"lo":0.0011,"hi":0.0015},{"p":"44","x":2,"lo":0.0029,"hi":0.0033},{"p":"44","x":2.3,"lo":0.0052,"hi":0.0056},{"p":"44","x":2.6,"lo":0.0083,"hi":0.0087},{"p":"44","x":2.8,"lo":0.0116,"hi":0.012},{"p":"44","x":3,"lo":0.0153,"hi":0.0157},{"p":"44","x":3.1416,"lo":0.0174,"hi":0.0178},
{"p":"45","x":0,"lo":0.0004,"hi":0.0008},{"p":"45","x":0.4,"lo":0,"hi":0.0004},{"p":"45","x":0.8,"lo":-0.0001,"hi":0.0003},{"p":"45","x":1.2,"lo":0.0001,"hi":0.0005},{"p":"45","x":1.6,"lo":0.0009,"hi":0.0013},{"p":"45","x":2,"lo":0.0027,"hi":0.0031},{"p":"45","x":2.3,"lo":0.0052,"hi":0.0056},{"p":"45","x":2.6,"lo":0.0088,"hi":0.0092},{"p":"45","x":2.8,"lo":0.0126,"hi":0.013},{"p":"45","x":3,"lo":0.0178,"hi":0.0182},{"p":"45","x":3.1416,"lo":0.0221,"hi":0.0225},
{"p":"51","x":0,"lo":-0.00005,"hi":0.00011},{"p":"51","x":0.4,"lo":-0.00006,"hi":0.0001},{"p":"51","x":0.8,"lo":-0.00006,"hi":0.0001},{"p":"51","x":1.2,"lo":0.00002,"hi":0.00018},{"p":"51","x":1.6,"lo":0.00017,"hi":0.00033},{"p":"51","x":2,"lo":0.00072,"hi":0.00088},{"p":"51","x":2.3,"lo":0.00112,"hi":0.00128},{"p":"51","x":2.6,"lo":0.00168,"hi":0.00192},{"p":"51","x":2.8,"lo":0.00205,"hi":0.00235},{"p":"51","x":3,"lo":0.00242,"hi":0.00278},{"p":"51","x":3.1416,"lo":0.0026,"hi":0.003},
{"p":"52","x":0,"lo":0.00012,"hi":0.00028},{"p":"52","x":0.4,"lo":0.00002,"hi":0.00018},{"p":"52","x":0.8,"lo":-0.00003,"hi":0.00013},{"p":"52","x":1.2,"lo":0.00002,"hi":0.00018},{"p":"52","x":1.6,"lo":0.00032,"hi":0.00048},{"p":"52","x":2,"lo":0.00102,"hi":0.00118},{"p":"52","x":2.3,"lo":0.00172,"hi":0.00188},{"p":"52","x":2.6,"lo":0.00262,"hi":0.00278},{"p":"52","x":2.8,"lo":0.00328,"hi":0.00352},{"p":"52","x":3,"lo":0.00415,"hi":0.00445},{"p":"52","x":3.1416,"lo":0.0046,"hi":0.005},
{"p":"53","x":0,"lo":0.00012,"hi":0.00028},{"p":"53","x":0.4,"lo":0.00002,"hi":0.00018},{"p":"53","x":0.8,"lo":-0.00005,"hi":0.00011},{"p":"53","x":1.2,"lo":0.00002,"hi":0.00018},{"p":"53","x":1.6,"lo":0.00042,"hi":0.00058},{"p":"53","x":2,"lo":0.00122,"hi":0.00138},{"p":"53","x":2.3,"lo":0.00222,"hi":0.00238},{"p":"53","x":2.6,"lo":0.00352,"hi":0.00368},{"p":"53","x":2.8,"lo":0.00492,"hi":0.00508},{"p":"53","x":3,"lo":0.00632,"hi":0.00648},{"p":"53","x":3.1416,"lo":0.00702,"hi":0.00718},
{"p":"54","x":0,"lo":0.00022,"hi":0.00038},{"p":"54","x":0.4,"lo":0.00002,"hi":0.00018},{"p":"54","x":0.8,"lo":-0.00006,"hi":0.0001},{"p":"54","x":1.2,"lo":0.00002,"hi":0.00018},{"p":"54","x":1.6,"lo":0.00032,"hi":0.00048},{"p":"54","x":2,"lo":0.00092,"hi":0.00108},{"p":"54","x":2.3,"lo":0.00192,"hi":0.00208},{"p":"54","x":2.6,"lo":0.00332,"hi":0.00348},{"p":"54","x":2.8,"lo":0.00552,"hi":0.00568},{"p":"54","x":3,"lo":0.00822,"hi":0.00838},{"p":"54","x":3.1416,"lo":0.00962,"hi":0.00978},
{"p":"55","x":0,"lo":0.00032,"hi":0.00048},{"p":"55","x":0.4,"lo":0.00002,"hi":0.00018},{"p":"55","x":0.8,"lo":-0.00003,"hi":0.00013},{"p":"55","x":1.2,"lo":0.00022,"hi":0.00038},{"p":"55","x":1.6,"lo":0.00072,"hi":0.00088},{"p":"55","x":2,"lo":0.00172,"hi":0.00188},{"p":"55","x":2.3,"lo":0.00312,"hi":0.00328},{"p":"55","x":2.6,"lo":0.00552,"hi":0.00568},{"p":"55","x":2.8,"lo":0.00842,"hi":0.00858},{"p":"55","x":3,"lo":0.01092,"hi":0.01108},{"p":"55","x":3.1416,"lo":0.01272,"hi":0.01288}
]},
"concat":[
{"width":146,"height":151,"data":{"values":[{}]},"resolve":{"axis":{"x":"independent","y":"independent"}},"layer":[
{"mark":{"type":"rule","color":"#999","strokeDash":[1.5,2.5],"strokeWidth":1},"encoding":{"y":{"datum":0,"type":"quantitative","scale":{"domain":[-0.05,0.3],"nice":false,"zero":false},"axis":{"orient":"left","offset":-8,"tickSize":16,"labelPadding":3,"values":[0,0.1,0.2,0.3],"format":".2f","title":null}}}},
{"data":{"name":"C"},"transform":[{"filter":"datum.p=='11'"}],"mark":{"type":"area","fill":"#999","stroke":"black","strokeWidth":1.6,"interpolate":"monotone","clip":true},"encoding":{"x":{"field":"x","type":"quantitative","scale":{"domain":[0,3.1416],"nice":false,"zero":false},"axis":{"orient":"bottom","offset":-8,"values":[0,0.5,1,1.5,2,2.5,3],"labels":false,"title":null}},"y":{"field":"lo","type":"quantitative","axis":null},"y2":{"field":"hi"}}},
{"data":{"name":"P"},"transform":[{"filter":"datum.p=='11'"}],"mark":{"type":"errorbar","color":"red","thickness":1.2,"ticks":{"size":8}},"encoding":{"x":{"field":"x","type":"quantitative","axis":null},"y":{"field":"y","type":"quantitative","axis":null},"yError":{"field":"e"}}},
{"data":{"name":"P"},"transform":[{"filter":"datum.p=='11'"}],"mark":{"type":"point","color":"red","size":58,"strokeWidth":1.4,"opacity":1},"encoding":{"x":{"field":"x","type":"quantitative","axis":{"orient":"top","offset":-8,"values":[0,0.5,1,1.5,2,2.5,3],"labels":false,"title":null}},"y":{"field":"y","type":"quantitative","axis":{"orient":"right","offset":-8,"values":[0,0.1,0.2,0.3],"labels":false,"title":null}}}},
{"mark":{"type":"text","text":"1 < p"},"encoding":{"x":{"datum":0.31,"axis":null},"y":{"datum":0.239,"axis":null}}},
{"mark":{"type":"text","text":"trig","fontSize":10,"dx":32,"dy":-9},"encoding":{"x":{"datum":0.31,"axis":null},"y":{"datum":0.239,"axis":null}}},
{"mark":{"type":"text","text":"T","fontSize":10,"dx":32,"dy":3},"encoding":{"x":{"datum":0.31,"axis":null},"y":{"datum":0.239,"axis":null}}},
{"mark":{"type":"text","text":"< 2 GeV","dx":51},"encoding":{"x":{"datum":0.31,"axis":null},"y":{"datum":0.239,"axis":null}}},
{"mark":{"type":"text","text":"1 < p"},"encoding":{"x":{"datum":0.31,"axis":null},"y":{"datum":0.188,"axis":null}}},
{"mark":{"type":"text","text":"asc","fontSize":10,"dx":32,"dy":-9},"encoding":{"x":{"datum":0.31,"axis":null},"y":{"datum":0.188,"axis":null}}},
{"mark":{"type":"text","text":"T","fontSize":10,"dx":32,"dy":3},"encoding":{"x":{"datum":0.31,"axis":null},"y":{"datum":0.188,"axis":null}}},
{"mark":{"type":"text","text":"< 2 GeV","dx":51.5},"encoding":{"x":{"datum":0.31,"axis":null},"y":{"datum":0.188,"axis":null}}}
]},
{"width":146,"height":151,"data":{"values":[{}]},"resolve":{"axis":{"x":"independent","y":"independent"}},"layer":[
{"mark":{"type":"rule","color":"#999","strokeDash":[1.5,2.5],"strokeWidth":1},"encoding":{"y":{"datum":0,"type":"quantitative","scale":{"domain":[-0.05,0.3],"nice":false,"zero":false},"axis":{"orient":"left","offset":-8,"values":[0,0.1,0.2,0.3],"labels":false,"title":null}}}},
{"data":{"name":"C"},"transform":[{"filter":"datum.p=='12'"}],"mark":{"type":"area","fill":"#999","stroke":"black","strokeWidth":1.6,"interpolate":"monotone","clip":true},"encoding":{"x":{"field":"x","type":"quantitative","scale":{"domain":[0,3.1416],"nice":false,"zero":false},"axis":{"orient":"bottom","offset":-8,"values":[0,0.5,1,1.5,2,2.5,3],"labels":false,"title":null}},"y":{"field":"lo","type":"quantitative","axis":null},"y2":{"field":"hi"}}},
{"data":{"name":"P"},"transform":[{"filter":"datum.p=='12'"}],"mark":{"type":"errorbar","color":"red","thickness":1.2,"ticks":{"size":8}},"encoding":{"x":{"field":"x","type":"quantitative","axis":null},"y":{"field":"y","type":"quantitative","axis":null},"yError":{"field":"e"}}},
{"data":{"name":"P"},"transform":[{"filter":"datum.p=='12'"}],"mark":{"type":"point","color":"red","size":58,"strokeWidth":1.4,"opacity":1},"encoding":{"x":{"field":"x","type":"quantitative","axis":{"orient":"top","offset":-8,"values":[0,0.5,1,1.5,2,2.5,3],"labels":false,"title":null}},"y":{"field":"y","type":"quantitative","axis":{"orient":"right","offset":-8,"values":[0,0.1,0.2,0.3],"labels":false,"title":null}}}},
{"mark":{"type":"text","text":"2 < p"},"encoding":{"x":{"datum":0.29,"axis":null},"y":{"datum":0.239,"axis":null}}},
{"mark":{"type":"text","text":"trig","fontSize":10,"dx":32,"dy":-9},"encoding":{"x":{"datum":0.29,"axis":null},"y":{"datum":0.239,"axis":null}}},
{"mark":{"type":"text","text":"T","fontSize":10,"dx":32,"dy":3},"encoding":{"x":{"datum":0.29,"axis":null},"y":{"datum":0.239,"axis":null}}},
{"mark":{"type":"text","text":"< 3 GeV","dx":51},"encoding":{"x":{"datum":0.29,"axis":null},"y":{"datum":0.239,"axis":null}}}
]},
{"width":146,"height":151,"data":{"values":[{}]},"resolve":{"axis":{"x":"independent","y":"independent"}},"layer":[
{"mark":{"type":"rule","color":"#999","strokeDash":[1.5,2.5],"strokeWidth":1},"encoding":{"y":{"datum":0,"type":"quantitative","scale":{"domain":[-0.05,0.3],"nice":false,"zero":false},"axis":{"orient":"left","offset":-8,"values":[0,0.1,0.2,0.3],"labels":false,"title":null}}}},
{"data":{"name":"C"},"transform":[{"filter":"datum.p=='13'"}],"mark":{"type":"area","fill":"#999","stroke":"black","strokeWidth":1.6,"interpolate":"monotone","clip":true},"encoding":{"x":{"field":"x","type":"quantitative","scale":{"domain":[0,3.1416],"nice":false,"zero":false},"axis":{"orient":"bottom","offset":-8,"values":[0,0.5,1,1.5,2,2.5,3],"labels":false,"title":null}},"y":{"field":"lo","type":"quantitative","axis":null},"y2":{"field":"hi"}}},
{"data":{"name":"P"},"transform":[{"filter":"datum.p=='13'"}],"mark":{"type":"errorbar","color":"red","thickness":1.2,"ticks":{"size":8}},"encoding":{"x":{"field":"x","type":"quantitative","axis":null},"y":{"field":"y","type":"quantitative","axis":null},"yError":{"field":"e"}}},
{"data":{"name":"P"},"transform":[{"filter":"datum.p=='13'"}],"mark":{"type":"point","color":"red","size":58,"strokeWidth":1.4,"opacity":1},"encoding":{"x":{"field":"x","type":"quantitative","axis":{"orient":"top","offset":-8,"values":[0,0.5,1,1.5,2,2.5,3],"labels":false,"title":null}},"y":{"field":"y","type":"quantitative","axis":{"orient":"right","offset":-8,"values":[0,0.1,0.2,0.3],"labels":false,"title":null}}}},
{"mark":{"type":"text","text":"3 < p"},"encoding":{"x":{"datum":0.29,"axis":null},"y":{"datum":0.239,"axis":null}}},
{"mark":{"type":"text","text":"trig","fontSize":10,"dx":32,"dy":-9},"encoding":{"x":{"datum":0.29,"axis":null},"y":{"datum":0.239,"axis":null}}},
{"mark":{"type":"text","text":"T","fontSize":10,"dx":32,"dy":3},"encoding":{"x":{"datum":0.29,"axis":null},"y":{"datum":0.239,"axis":null}}},
{"mark":{"type":"text","text":"< 4 GeV","dx":51},"encoding":{"x":{"datum":0.29,"axis":null},"y":{"datum":0.239,"axis":null}}}
]},
{"width":146,"height":151,"data":{"values":[{}]},"resolve":{"axis":{"x":"independent","y":"independent"}},"layer":[
{"mark":{"type":"rule","color":"#999","strokeDash":[1.5,2.5],"strokeWidth":1},"encoding":{"y":{"datum":0,"type":"quantitative","scale":{"domain":[-0.05,0.3],"nice":false,"zero":false},"axis":{"orient":"left","offset":-8,"values":[0,0.1,0.2,0.3],"labels":false,"title":null}}}},
{"data":{"name":"C"},"transform":[{"filter":"datum.p=='14'"}],"mark":{"type":"area","fill":"#999","stroke":"black","strokeWidth":1.6,"interpolate":"monotone","clip":true},"encoding":{"x":{"field":"x","type":"quantitative","scale":{"domain":[0,3.1416],"nice":false,"zero":false},"axis":{"orient":"bottom","offset":-8,"values":[0,0.5,1,1.5,2,2.5,3],"labels":false,"title":null}},"y":{"field":"lo","type":"quantitative","axis":null},"y2":{"field":"hi"}}},
{"data":{"name":"P"},"transform":[{"filter":"datum.p=='14'"}],"mark":{"type":"errorbar","color":"red","thickness":1.2,"ticks":{"size":8}},"encoding":{"x":{"field":"x","type":"quantitative","axis":null},"y":{"field":"y","type":"quantitative","axis":null},"yError":{"field":"e"}}},
{"data":{"name":"P"},"transform":[{"filter":"datum.p=='14'"}],"mark":{"type":"point","color":"red","size":58,"strokeWidth":1.4,"opacity":1},"encoding":{"x":{"field":"x","type":"quantitative","axis":{"orient":"top","offset":-8,"values":[0,0.5,1,1.5,2,2.5,3],"labels":false,"title":null}},"y":{"field":"y","type":"quantitative","axis":{"orient":"right","offset":-8,"values":[0,0.1,0.2,0.3],"labels":false,"title":null}}}},
{"mark":{"type":"text","text":"4 < p"},"encoding":{"x":{"datum":0.29,"axis":null},"y":{"datum":0.239,"axis":null}}},
{"mark":{"type":"text","text":"trig","fontSize":10,"dx":32,"dy":-9},"encoding":{"x":{"datum":0.29,"axis":null},"y":{"datum":0.239,"axis":null}}},
{"mark":{"type":"text","text":"T","fontSize":10,"dx":32,"dy":3},"encoding":{"x":{"datum":0.29,"axis":null},"y":{"datum":0.239,"axis":null}}},
{"mark":{"type":"text","text":"< 5 GeV","dx":51},"encoding":{"x":{"datum":0.29,"axis":null},"y":{"datum":0.239,"axis":null}}}
]},
{"width":146,"height":151,"data":{"values":[{}]},"resolve":{"axis":{"x":"independent","y":"independent"}},"layer":[
{"mark":{"type":"rule","color":"#999","strokeDash":[1.5,2.5],"strokeWidth":1},"encoding":{"y":{"datum":0,"type":"quantitative","scale":{"domain":[-0.05,0.3],"nice":false,"zero":false},"axis":{"orient":"left","offset":-8,"values":[0,0.1,0.2,0.3],"labels":false,"title":null}}}},
{"data":{"name":"C"},"transform":[{"filter":"datum.p=='15'"}],"mark":{"type":"area","fill":"#999","stroke":"black","strokeWidth":1.6,"interpolate":"monotone","clip":true},"encoding":{"x":{"field":"x","type":"quantitative","scale":{"domain":[0,3.1416],"nice":false,"zero":false},"axis":{"orient":"bottom","offset":-8,"values":[0,0.5,1,1.5,2,2.5,3],"labels":false,"title":null}},"y":{"field":"lo","type":"quantitative","axis":null},"y2":{"field":"hi"}}},
{"data":{"name":"P"},"transform":[{"filter":"datum.p=='15'"}],"mark":{"type":"errorbar","color":"red","thickness":1.2,"ticks":{"size":8}},"encoding":{"x":{"field":"x","type":"quantitative","axis":null},"y":{"field":"y","type":"quantitative","axis":null},"yError":{"field":"e"}}},
{"data":{"name":"P"},"transform":[{"filter":"datum.p=='15'"}],"mark":{"type":"point","color":"red","size":58,"strokeWidth":1.4,"opacity":1},"encoding":{"x":{"field":"x","type":"quantitative","axis":{"orient":"top","offset":-8,"values":[0,0.5,1,1.5,2,2.5,3],"labels":false,"title":null}},"y":{"field":"y","type":"quantitative","axis":{"orient":"right","offset":-8,"values":[0,0.1,0.2,0.3],"labels":false,"title":null}}}},
{"mark":{"type":"text","text":"5 < p"},"encoding":{"x":{"datum":0.29,"axis":null},"y":{"datum":0.239,"axis":null}}},
{"mark":{"type":"text","text":"trig","fontSize":10,"dx":32,"dy":-9},"encoding":{"x":{"datum":0.29,"axis":null},"y":{"datum":0.239,"axis":null}}},
{"mark":{"type":"text","text":"T","fontSize":10,"dx":32,"dy":3},"encoding":{"x":{"datum":0.29,"axis":null},"y":{"datum":0.239,"axis":null}}},
{"mark":{"type":"text","text":"< 6 GeV","dx":51},"encoding":{"x":{"datum":0.29,"axis":null},"y":{"datum":0.239,"axis":null}}}
]},
{"width":146,"height":151,"data":{"values":[{}]},"resolve":{"axis":{"x":"independent","y":"independent"}},"layer":[
{"mark":{"type":"rule","color":"#999","strokeDash":[1.5,2.5],"strokeWidth":1},"encoding":{"y":{"datum":0,"type":"quantitative","scale":{"domain":[-0.0233,0.14],"nice":false,"zero":false},"axis":{"orient":"left","offset":-8,"tickSize":16,"labelPadding":3,"values":[0,0.04,0.08,0.12],"format":".2f","title":null}}}},
{"data":{"name":"C"},"transform":[{"filter":"datum.p=='21'"}],"mark":{"type":"area","fill":"#999","stroke":"black","strokeWidth":1.6,"interpolate":"monotone","clip":true},"encoding":{"x":{"field":"x","type":"quantitative","scale":{"domain":[0,3.1416],"nice":false,"zero":false},"axis":{"orient":"bottom","offset":-8,"values":[0,0.5,1,1.5,2,2.5,3],"labels":false,"title":null}},"y":{"field":"lo","type":"quantitative","axis":null},"y2":{"field":"hi"}}},
{"data":{"name":"P"},"transform":[{"filter":"datum.p=='21'"}],"mark":{"type":"errorbar","color":"red","thickness":1.2,"ticks":{"size":8}},"encoding":{"x":{"field":"x","type":"quantitative","axis":null},"y":{"field":"y","type":"quantitative","axis":null},"yError":{"field":"e"}}},
{"data":{"name":"P"},"transform":[{"filter":"datum.p=='21'"}],"mark":{"type":"point","color":"red","size":58,"strokeWidth":1.4,"opacity":1},"encoding":{"x":{"field":"x","type":"quantitative","axis":{"orient":"top","offset":-8,"values":[0,0.5,1,1.5,2,2.5,3],"labels":false,"title":null}},"y":{"field":"y","type":"quantitative","axis":{"orient":"right","offset":-8,"values":[0,0.04,0.08,0.12],"labels":false,"title":null}}}},
{"mark":{"type":"text","text":"2 < p"},"encoding":{"x":{"datum":0.31,"axis":null},"y":{"datum":0.115,"axis":null}}},
{"mark":{"type":"text","text":"asc","fontSize":10,"dx":32,"dy":-9},"encoding":{"x":{"datum":0.31,"axis":null},"y":{"datum":0.115,"axis":null}}},
{"mark":{"type":"text","text":"T","fontSize":10,"dx":32,"dy":3},"encoding":{"x":{"datum":0.31,"axis":null},"y":{"datum":0.115,"axis":null}}},
{"mark":{"type":"text","text":"< 3 GeV","dx":51.5},"encoding":{"x":{"datum":0.31,"axis":null},"y":{"datum":0.115,"axis":null}}}
]},
{"width":146,"height":151,"data":{"values":[{}]},"resolve":{"axis":{"x":"independent","y":"independent"}},"layer":[
{"mark":{"type":"rule","color":"#999","strokeDash":[1.5,2.5],"strokeWidth":1},"encoding":{"y":{"datum":0,"type":"quantitative","scale":{"domain":[-0.0233,0.14],"nice":false,"zero":false},"axis":{"orient":"left","offset":-8,"values":[0,0.04,0.08,0.12],"labels":false,"title":null}}}},
{"data":{"name":"C"},"transform":[{"filter":"datum.p=='22'"}],"mark":{"type":"area","fill":"#999","stroke":"black","strokeWidth":1.6,"interpolate":"monotone","clip":true},"encoding":{"x":{"field":"x","type":"quantitative","scale":{"domain":[0,3.1416],"nice":false,"zero":false},"axis":{"orient":"bottom","offset":-8,"values":[0,0.5,1,1.5,2,2.5,3],"labels":false,"title":null}},"y":{"field":"lo","type":"quantitative","axis":null},"y2":{"field":"hi"}}},
{"data":{"name":"P"},"transform":[{"filter":"datum.p=='22'"}],"mark":{"type":"errorbar","color":"red","thickness":1.2,"ticks":{"size":8}},"encoding":{"x":{"field":"x","type":"quantitative","axis":null},"y":{"field":"y","type":"quantitative","axis":null},"yError":{"field":"e"}}},
{"data":{"name":"P"},"transform":[{"filter":"datum.p=='22'"}],"mark":{"type":"point","color":"red","size":58,"strokeWidth":1.4,"opacity":1},"encoding":{"x":{"field":"x","type":"quantitative","axis":{"orient":"top","offset":-8,"values":[0,0.5,1,1.5,2,2.5,3],"labels":false,"title":null}},"y":{"field":"y","type":"quantitative","axis":{"orient":"right","offset":-8,"values":[0,0.04,0.08,0.12],"labels":false,"title":null}}}}
]},
{"width":146,"height":151,"data":{"values":[{}]},"resolve":{"axis":{"x":"independent","y":"independent"}},"layer":[
{"mark":{"type":"rule","color":"#999","strokeDash":[1.5,2.5],"strokeWidth":1},"encoding":{"y":{"datum":0,"type":"quantitative","scale":{"domain":[-0.0233,0.14],"nice":false,"zero":false},"axis":{"orient":"left","offset":-8,"values":[0,0.04,0.08,0.12],"labels":false,"title":null}}}},
{"data":{"name":"C"},"transform":[{"filter":"datum.p=='23'"}],"mark":{"type":"area","fill":"#999","stroke":"black","strokeWidth":1.6,"interpolate":"monotone","clip":true},"encoding":{"x":{"field":"x","type":"quantitative","scale":{"domain":[0,3.1416],"nice":false,"zero":false},"axis":{"orient":"bottom","offset":-8,"values":[0,0.5,1,1.5,2,2.5,3],"labels":false,"title":null}},"y":{"field":"lo","type":"quantitative","axis":null},"y2":{"field":"hi"}}},
{"data":{"name":"P"},"transform":[{"filter":"datum.p=='23'"}],"mark":{"type":"errorbar","color":"red","thickness":1.2,"ticks":{"size":8}},"encoding":{"x":{"field":"x","type":"quantitative","axis":null},"y":{"field":"y","type":"quantitative","axis":null},"yError":{"field":"e"}}},
{"data":{"name":"P"},"transform":[{"filter":"datum.p=='23'"}],"mark":{"type":"point","color":"red","size":58,"strokeWidth":1.4,"opacity":1},"encoding":{"x":{"field":"x","type":"quantitative","axis":{"orient":"top","offset":-8,"values":[0,0.5,1,1.5,2,2.5,3],"labels":false,"title":null}},"y":{"field":"y","type":"quantitative","axis":{"orient":"right","offset":-8,"values":[0,0.04,0.08,0.12],"labels":false,"title":null}}}}
]},
{"width":146,"height":151,"data":{"values":[{}]},"resolve":{"axis":{"x":"independent","y":"independent"}},"layer":[
{"mark":{"type":"rule","color":"#999","strokeDash":[1.5,2.5],"strokeWidth":1},"encoding":{"y":{"datum":0,"type":"quantitative","scale":{"domain":[-0.0233,0.14],"nice":false,"zero":false},"axis":{"orient":"left","offset":-8,"values":[0,0.04,0.08,0.12],"labels":false,"title":null}}}},
{"data":{"name":"C"},"transform":[{"filter":"datum.p=='24'"}],"mark":{"type":"area","fill":"#999","stroke":"black","strokeWidth":1.6,"interpolate":"monotone","clip":true},"encoding":{"x":{"field":"x","type":"quantitative","scale":{"domain":[0,3.1416],"nice":false,"zero":false},"axis":{"orient":"bottom","offset":-8,"values":[0,0.5,1,1.5,2,2.5,3],"labels":false,"title":null}},"y":{"field":"lo","type":"quantitative","axis":null},"y2":{"field":"hi"}}},
{"data":{"name":"P"},"transform":[{"filter":"datum.p=='24'"}],"mark":{"type":"errorbar","color":"red","thickness":1.2,"ticks":{"size":8}},"encoding":{"x":{"field":"x","type":"quantitative","axis":null},"y":{"field":"y","type":"quantitative","axis":null},"yError":{"field":"e"}}},
{"data":{"name":"P"},"transform":[{"filter":"datum.p=='24'"}],"mark":{"type":"point","color":"red","size":58,"strokeWidth":1.4,"opacity":1},"encoding":{"x":{"field":"x","type":"quantitative","axis":{"orient":"top","offset":-8,"values":[0,0.5,1,1.5,2,2.5,3],"labels":false,"title":null}},"y":{"field":"y","type":"quantitative","axis":{"orient":"right","offset":-8,"values":[0,0.04,0.08,0.12],"labels":false,"title":null}}}}
]},
{"width":146,"height":151,"data":{"values":[{}]},"resolve":{"axis":{"x":"independent","y":"independent"}},"layer":[
{"mark":{"type":"rule","color":"#999","strokeDash":[1.5,2.5],"strokeWidth":1},"encoding":{"y":{"datum":0,"type":"quantitative","scale":{"domain":[-0.0233,0.14],"nice":false,"zero":false},"axis":{"orient":"left","offset":-8,"values":[0,0.04,0.08,0.12],"labels":false,"title":null}}}},
{"data":{"name":"C"},"transform":[{"filter":"datum.p=='25'"}],"mark":{"type":"area","fill":"#999","stroke":"black","strokeWidth":1.6,"interpolate":"monotone","clip":true},"encoding":{"x":{"field":"x","type":"quantitative","scale":{"domain":[0,3.1416],"nice":false,"zero":false},"axis":{"orient":"bottom","offset":-8,"values":[0,0.5,1,1.5,2,2.5,3],"labels":false,"title":null}},"y":{"field":"lo","type":"quantitative","axis":null},"y2":{"field":"hi"}}},
{"data":{"name":"P"},"transform":[{"filter":"datum.p=='25'"}],"mark":{"type":"errorbar","color":"red","thickness":1.2,"ticks":{"size":8}},"encoding":{"x":{"field":"x","type":"quantitative","axis":null},"y":{"field":"y","type":"quantitative","axis":null},"yError":{"field":"e"}}},
{"data":{"name":"P"},"transform":[{"filter":"datum.p=='25'"}],"mark":{"type":"point","color":"red","size":58,"strokeWidth":1.4,"opacity":1},"encoding":{"x":{"field":"x","type":"quantitative","axis":{"orient":"top","offset":-8,"values":[0,0.5,1,1.5,2,2.5,3],"labels":false,"title":null}},"y":{"field":"y","type":"quantitative","axis":{"orient":"right","offset":-8,"values":[0,0.04,0.08,0.12],"labels":false,"title":null}}}}
]},
{"width":146,"height":151,"data":{"values":[{}]},"resolve":{"axis":{"x":"independent","y":"independent"}},"layer":[
{"mark":{"type":"rule","color":"#999","strokeDash":[1.5,2.5],"strokeWidth":1},"encoding":{"y":{"datum":0,"type":"quantitative","scale":{"domain":[-0.0083,0.05],"nice":false,"zero":false},"axis":{"orient":"left","offset":-8,"tickSize":16,"labelPadding":3,"values":[0,0.0125,0.025,0.0375],"labelExpr":"datum.value==0?'0.00':datum.value<0.02?'0.01':datum.value<0.03?'0.03':'0.04'","title":null}}}},
{"data":{"name":"C"},"transform":[{"filter":"datum.p=='31'"}],"mark":{"type":"area","fill":"#999","stroke":"black","strokeWidth":1.6,"interpolate":"monotone","clip":true},"encoding":{"x":{"field":"x","type":"quantitative","scale":{"domain":[0,3.1416],"nice":false,"zero":false},"axis":{"orient":"bottom","offset":-8,"values":[0,0.5,1,1.5,2,2.5,3],"labels":false,"title":null}},"y":{"field":"lo","type":"quantitative","axis":null},"y2":{"field":"hi"}}},
{"data":{"name":"P"},"transform":[{"filter":"datum.p=='31'"}],"mark":{"type":"errorbar","color":"red","thickness":1.2,"ticks":{"size":8}},"encoding":{"x":{"field":"x","type":"quantitative","axis":null},"y":{"field":"y","type":"quantitative","axis":null},"yError":{"field":"e"}}},
{"data":{"name":"P"},"transform":[{"filter":"datum.p=='31'"}],"mark":{"type":"point","color":"red","size":58,"strokeWidth":1.4,"opacity":1},"encoding":{"x":{"field":"x","type":"quantitative","axis":{"orient":"top","offset":-8,"values":[0,0.5,1,1.5,2,2.5,3],"labels":false,"title":null}},"y":{"field":"y","type":"quantitative","axis":{"orient":"right","offset":-8,"values":[0,0.0125,0.025,0.0375],"labels":false,"title":null}}}},
{"mark":{"type":"text","text":"3 < p"},"encoding":{"x":{"datum":0.31,"axis":null},"y":{"datum":0.0315,"axis":null}}},
{"mark":{"type":"text","text":"asc","fontSize":10,"dx":32,"dy":-9},"encoding":{"x":{"datum":0.31,"axis":null},"y":{"datum":0.0315,"axis":null}}},
{"mark":{"type":"text","text":"T","fontSize":10,"dx":32,"dy":3},"encoding":{"x":{"datum":0.31,"axis":null},"y":{"datum":0.0315,"axis":null}}},
{"mark":{"type":"text","text":"< 4 GeV","dx":51.5},"encoding":{"x":{"datum":0.31,"axis":null},"y":{"datum":0.0315,"axis":null}}}
]},
{"width":146,"height":151,"data":{"values":[{}]},"resolve":{"axis":{"x":"independent","y":"independent"}},"layer":[
{"mark":{"type":"rule","color":"#999","strokeDash":[1.5,2.5],"strokeWidth":1},"encoding":{"y":{"datum":0,"type":"quantitative","scale":{"domain":[-0.0083,0.05],"nice":false,"zero":false},"axis":{"orient":"left","offset":-8,"values":[0,0.0125,0.025,0.0375],"labels":false,"title":null}}}},
{"data":{"name":"C"},"transform":[{"filter":"datum.p=='32'"}],"mark":{"type":"area","fill":"#999","stroke":"black","strokeWidth":1.6,"interpolate":"monotone","clip":true},"encoding":{"x":{"field":"x","type":"quantitative","scale":{"domain":[0,3.1416],"nice":false,"zero":false},"axis":{"orient":"bottom","offset":-8,"values":[0,0.5,1,1.5,2,2.5,3],"labels":false,"title":null}},"y":{"field":"lo","type":"quantitative","axis":null},"y2":{"field":"hi"}}},
{"data":{"name":"P"},"transform":[{"filter":"datum.p=='32'"}],"mark":{"type":"errorbar","color":"red","thickness":1.2,"ticks":{"size":8}},"encoding":{"x":{"field":"x","type":"quantitative","axis":null},"y":{"field":"y","type":"quantitative","axis":null},"yError":{"field":"e"}}},
{"data":{"name":"P"},"transform":[{"filter":"datum.p=='32'"}],"mark":{"type":"point","color":"red","size":58,"strokeWidth":1.4,"opacity":1},"encoding":{"x":{"field":"x","type":"quantitative","axis":{"orient":"top","offset":-8,"values":[0,0.5,1,1.5,2,2.5,3],"labels":false,"title":null}},"y":{"field":"y","type":"quantitative","axis":{"orient":"right","offset":-8,"values":[0,0.0125,0.025,0.0375],"labels":false,"title":null}}}}
]},
{"width":146,"height":151,"data":{"values":[{}]},"resolve":{"axis":{"x":"independent","y":"independent"}},"layer":[
{"mark":{"type":"rule","color":"#999","strokeDash":[1.5,2.5],"strokeWidth":1},"encoding":{"y":{"datum":0,"type":"quantitative","scale":{"domain":[-0.0083,0.05],"nice":false,"zero":false},"axis":{"orient":"left","offset":-8,"values":[0,0.0125,0.025,0.0375],"labels":false,"title":null}}}},
{"data":{"name":"C"},"transform":[{"filter":"datum.p=='33'"}],"mark":{"type":"area","fill":"#999","stroke":"black","strokeWidth":1.6,"interpolate":"monotone","clip":true},"encoding":{"x":{"field":"x","type":"quantitative","scale":{"domain":[0,3.1416],"nice":false,"zero":false},"axis":{"orient":"bottom","offset":-8,"values":[0,0.5,1,1.5,2,2.5,3],"labels":false,"title":null}},"y":{"field":"lo","type":"quantitative","axis":null},"y2":{"field":"hi"}}},
{"data":{"name":"P"},"transform":[{"filter":"datum.p=='33'"}],"mark":{"type":"errorbar","color":"red","thickness":1.2,"ticks":{"size":8}},"encoding":{"x":{"field":"x","type":"quantitative","axis":null},"y":{"field":"y","type":"quantitative","axis":null},"yError":{"field":"e"}}},
{"data":{"name":"P"},"transform":[{"filter":"datum.p=='33'"}],"mark":{"type":"point","color":"red","size":58,"strokeWidth":1.4,"opacity":1},"encoding":{"x":{"field":"x","type":"quantitative","axis":{"orient":"top","offset":-8,"values":[0,0.5,1,1.5,2,2.5,3],"labels":false,"title":null}},"y":{"field":"y","type":"quantitative","axis":{"orient":"right","offset":-8,"values":[0,0.0125,0.025,0.0375],"labels":false,"title":null}}}}
]},
{"width":146,"height":151,"data":{"values":[{}]},"resolve":{"axis":{"x":"independent","y":"independent"}},"layer":[
{"mark":{"type":"rule","color":"#999","strokeDash":[1.5,2.5],"strokeWidth":1},"encoding":{"y":{"datum":0,"type":"quantitative","scale":{"domain":[-0.0083,0.05],"nice":false,"zero":false},"axis":{"orient":"left","offset":-8,"values":[0,0.0125,0.025,0.0375],"labels":false,"title":null}}}},
{"data":{"name":"C"},"transform":[{"filter":"datum.p=='34'"}],"mark":{"type":"area","fill":"#999","stroke":"black","strokeWidth":1.6,"interpolate":"monotone","clip":true},"encoding":{"x":{"field":"x","type":"quantitative","scale":{"domain":[0,3.1416],"nice":false,"zero":false},"axis":{"orient":"bottom","offset":-8,"values":[0,0.5,1,1.5,2,2.5,3],"labels":false,"title":null}},"y":{"field":"lo","type":"quantitative","axis":null},"y2":{"field":"hi"}}},
{"data":{"name":"P"},"transform":[{"filter":"datum.p=='34'"}],"mark":{"type":"errorbar","color":"red","thickness":1.2,"ticks":{"size":8}},"encoding":{"x":{"field":"x","type":"quantitative","axis":null},"y":{"field":"y","type":"quantitative","axis":null},"yError":{"field":"e"}}},
{"data":{"name":"P"},"transform":[{"filter":"datum.p=='34'"}],"mark":{"type":"point","color":"red","size":58,"strokeWidth":1.4,"opacity":1},"encoding":{"x":{"field":"x","type":"quantitative","axis":{"orient":"top","offset":-8,"values":[0,0.5,1,1.5,2,2.5,3],"labels":false,"title":null}},"y":{"field":"y","type":"quantitative","axis":{"orient":"right","offset":-8,"values":[0,0.0125,0.025,0.0375],"labels":false,"title":null}}}}
]},
{"width":146,"height":151,"data":{"values":[{}]},"resolve":{"axis":{"x":"independent","y":"independent"}},"layer":[
{"mark":{"type":"rule","color":"#999","strokeDash":[1.5,2.5],"strokeWidth":1},"encoding":{"y":{"datum":0,"type":"quantitative","scale":{"domain":[-0.0083,0.05],"nice":false,"zero":false},"axis":{"orient":"left","offset":-8,"values":[0,0.0125,0.025,0.0375],"labels":false,"title":null}}}},
{"data":{"name":"C"},"transform":[{"filter":"datum.p=='35'"}],"mark":{"type":"area","fill":"#999","stroke":"black","strokeWidth":1.6,"interpolate":"monotone","clip":true},"encoding":{"x":{"field":"x","type":"quantitative","scale":{"domain":[0,3.1416],"nice":false,"zero":false},"axis":{"orient":"bottom","offset":-8,"values":[0,0.5,1,1.5,2,2.5,3],"labels":false,"title":null}},"y":{"field":"lo","type":"quantitative","axis":null},"y2":{"field":"hi"}}},
{"data":{"name":"P"},"transform":[{"filter":"datum.p=='35'"}],"mark":{"type":"errorbar","color":"red","thickness":1.2,"ticks":{"size":8}},"encoding":{"x":{"field":"x","type":"quantitative","axis":null},"y":{"field":"y","type":"quantitative","axis":null},"yError":{"field":"e"}}},
{"data":{"name":"P"},"transform":[{"filter":"datum.p=='35'"}],"mark":{"type":"point","color":"red","size":58,"strokeWidth":1.4,"opacity":1},"encoding":{"x":{"field":"x","type":"quantitative","axis":{"orient":"top","offset":-8,"values":[0,0.5,1,1.5,2,2.5,3],"labels":false,"title":null}},"y":{"field":"y","type":"quantitative","axis":{"orient":"right","offset":-8,"values":[0,0.0125,0.025,0.0375],"labels":false,"title":null}}}}
]},
{"width":146,"height":151,"data":{"values":[{}]},"resolve":{"axis":{"x":"independent","y":"independent"}},"layer":[
{"mark":{"type":"rule","color":"#999","strokeDash":[1.5,2.5],"strokeWidth":1},"encoding":{"y":{"datum":0,"type":"quantitative","scale":{"domain":[-0.0067,0.04],"nice":false,"zero":false},"axis":{"orient":"left","offset":-8,"tickSize":16,"labelPadding":3,"values":[0,0.01,0.02,0.03],"format":".2f","title":null}}}},
{"data":{"name":"C"},"transform":[{"filter":"datum.p=='41'"}],"mark":{"type":"area","fill":"#999","stroke":"black","strokeWidth":1.6,"interpolate":"monotone","clip":true},"encoding":{"x":{"field":"x","type":"quantitative","scale":{"domain":[0,3.1416],"nice":false,"zero":false},"axis":{"orient":"bottom","offset":-8,"values":[0,0.5,1,1.5,2,2.5,3],"labels":false,"title":null}},"y":{"field":"lo","type":"quantitative","axis":null},"y2":{"field":"hi"}}},
{"data":{"name":"P"},"transform":[{"filter":"datum.p=='41'"}],"mark":{"type":"errorbar","color":"red","thickness":1.2,"ticks":{"size":8}},"encoding":{"x":{"field":"x","type":"quantitative","axis":null},"y":{"field":"y","type":"quantitative","axis":null},"yError":{"field":"e"}}},
{"data":{"name":"P"},"transform":[{"filter":"datum.p=='41'"}],"mark":{"type":"point","color":"red","size":58,"strokeWidth":1.4,"opacity":1},"encoding":{"x":{"field":"x","type":"quantitative","axis":{"orient":"top","offset":-8,"values":[0,0.5,1,1.5,2,2.5,3],"labels":false,"title":null}},"y":{"field":"y","type":"quantitative","axis":{"orient":"right","offset":-8,"values":[0,0.01,0.02,0.03],"labels":false,"title":null}}}},
{"mark":{"type":"text","text":"4 < p"},"encoding":{"x":{"datum":0.31,"axis":null},"y":{"datum":0.0288,"axis":null}}},
{"mark":{"type":"text","text":"asc","fontSize":10,"dx":32,"dy":-9},"encoding":{"x":{"datum":0.31,"axis":null},"y":{"datum":0.0288,"axis":null}}},
{"mark":{"type":"text","text":"T","fontSize":10,"dx":32,"dy":3},"encoding":{"x":{"datum":0.31,"axis":null},"y":{"datum":0.0288,"axis":null}}},
{"mark":{"type":"text","text":"< 5 GeV","dx":51.5},"encoding":{"x":{"datum":0.31,"axis":null},"y":{"datum":0.0288,"axis":null}}}
]},
{"width":146,"height":151,"data":{"values":[{}]},"resolve":{"axis":{"x":"independent","y":"independent"}},"layer":[
{"mark":{"type":"rule","color":"#999","strokeDash":[1.5,2.5],"strokeWidth":1},"encoding":{"y":{"datum":0,"type":"quantitative","scale":{"domain":[-0.0067,0.04],"nice":false,"zero":false},"axis":{"orient":"left","offset":-8,"values":[0,0.01,0.02,0.03],"labels":false,"title":null}}}},
{"data":{"name":"C"},"transform":[{"filter":"datum.p=='42'"}],"mark":{"type":"area","fill":"#999","stroke":"black","strokeWidth":1.6,"interpolate":"monotone","clip":true},"encoding":{"x":{"field":"x","type":"quantitative","scale":{"domain":[0,3.1416],"nice":false,"zero":false},"axis":{"orient":"bottom","offset":-8,"values":[0,0.5,1,1.5,2,2.5,3],"labels":false,"title":null}},"y":{"field":"lo","type":"quantitative","axis":null},"y2":{"field":"hi"}}},
{"data":{"name":"P"},"transform":[{"filter":"datum.p=='42'"}],"mark":{"type":"errorbar","color":"red","thickness":1.2,"ticks":{"size":8}},"encoding":{"x":{"field":"x","type":"quantitative","axis":null},"y":{"field":"y","type":"quantitative","axis":null},"yError":{"field":"e"}}},
{"data":{"name":"P"},"transform":[{"filter":"datum.p=='42'"}],"mark":{"type":"point","color":"red","size":58,"strokeWidth":1.4,"opacity":1},"encoding":{"x":{"field":"x","type":"quantitative","axis":{"orient":"top","offset":-8,"values":[0,0.5,1,1.5,2,2.5,3],"labels":false,"title":null}},"y":{"field":"y","type":"quantitative","axis":{"orient":"right","offset":-8,"values":[0,0.01,0.02,0.03],"labels":false,"title":null}}}}
]},
{"width":146,"height":151,"data":{"values":[{}]},"resolve":{"axis":{"x":"independent","y":"independent"}},"layer":[
{"mark":{"type":"rule","color":"#999","strokeDash":[1.5,2.5],"strokeWidth":1},"encoding":{"y":{"datum":0,"type":"quantitative","scale":{"domain":[-0.0067,0.04],"nice":false,"zero":false},"axis":{"orient":"left","offset":-8,"values":[0,0.01,0.02,0.03],"labels":false,"title":null}}}},
{"data":{"name":"C"},"transform":[{"filter":"datum.p=='43'"}],"mark":{"type":"area","fill":"#999","stroke":"black","strokeWidth":1.6,"interpolate":"monotone","clip":true},"encoding":{"x":{"field":"x","type":"quantitative","scale":{"domain":[0,3.1416],"nice":false,"zero":false},"axis":{"orient":"bottom","offset":-8,"values":[0,0.5,1,1.5,2,2.5,3],"labels":false,"title":null}},"y":{"field":"lo","type":"quantitative","axis":null},"y2":{"field":"hi"}}},
{"data":{"name":"P"},"transform":[{"filter":"datum.p=='43'"}],"mark":{"type":"errorbar","color":"red","thickness":1.2,"ticks":{"size":8}},"encoding":{"x":{"field":"x","type":"quantitative","axis":null},"y":{"field":"y","type":"quantitative","axis":null},"yError":{"field":"e"}}},
{"data":{"name":"P"},"transform":[{"filter":"datum.p=='43'"}],"mark":{"type":"point","color":"red","size":58,"strokeWidth":1.4,"opacity":1},"encoding":{"x":{"field":"x","type":"quantitative","axis":{"orient":"top","offset":-8,"values":[0,0.5,1,1.5,2,2.5,3],"labels":false,"title":null}},"y":{"field":"y","type":"quantitative","axis":{"orient":"right","offset":-8,"values":[0,0.01,0.02,0.03],"labels":false,"title":null}}}}
]},
{"width":146,"height":151,"data":{"values":[{}]},"resolve":{"axis":{"x":"independent","y":"independent"}},"layer":[
{"mark":{"type":"rule","color":"#999","strokeDash":[1.5,2.5],"strokeWidth":1},"encoding":{"y":{"datum":0,"type":"quantitative","scale":{"domain":[-0.0067,0.04],"nice":false,"zero":false},"axis":{"orient":"left","offset":-8,"values":[0,0.01,0.02,0.03],"labels":false,"title":null}}}},
{"data":{"name":"C"},"transform":[{"filter":"datum.p=='44'"}],"mark":{"type":"area","fill":"#999","stroke":"black","strokeWidth":1.6,"interpolate":"monotone","clip":true},"encoding":{"x":{"field":"x","type":"quantitative","scale":{"domain":[0,3.1416],"nice":false,"zero":false},"axis":{"orient":"bottom","offset":-8,"values":[0,0.5,1,1.5,2,2.5,3],"labels":false,"title":null}},"y":{"field":"lo","type":"quantitative","axis":null},"y2":{"field":"hi"}}},
{"data":{"name":"P"},"transform":[{"filter":"datum.p=='44'"}],"mark":{"type":"errorbar","color":"red","thickness":1.2,"ticks":{"size":8}},"encoding":{"x":{"field":"x","type":"quantitative","axis":null},"y":{"field":"y","type":"quantitative","axis":null},"yError":{"field":"e"}}},
{"data":{"name":"P"},"transform":[{"filter":"datum.p=='44'"}],"mark":{"type":"point","color":"red","size":58,"strokeWidth":1.4,"opacity":1},"encoding":{"x":{"field":"x","type":"quantitative","axis":{"orient":"top","offset":-8,"values":[0,0.5,1,1.5,2,2.5,3],"labels":false,"title":null}},"y":{"field":"y","type":"quantitative","axis":{"orient":"right","offset":-8,"values":[0,0.01,0.02,0.03],"labels":false,"title":null}}}}
]},
{"width":146,"height":151,"data":{"values":[{}]},"resolve":{"axis":{"x":"independent","y":"independent"}},"layer":[
{"mark":{"type":"rule","color":"#999","strokeDash":[1.5,2.5],"strokeWidth":1},"encoding":{"y":{"datum":0,"type":"quantitative","scale":{"domain":[-0.0067,0.04],"nice":false,"zero":false},"axis":{"orient":"left","offset":-8,"values":[0,0.01,0.02,0.03],"labels":false,"title":null}}}},
{"data":{"name":"C"},"transform":[{"filter":"datum.p=='45'"}],"mark":{"type":"area","fill":"#999","stroke":"black","strokeWidth":1.6,"interpolate":"monotone","clip":true},"encoding":{"x":{"field":"x","type":"quantitative","scale":{"domain":[0,3.1416],"nice":false,"zero":false},"axis":{"orient":"bottom","offset":-8,"values":[0,0.5,1,1.5,2,2.5,3],"labels":false,"title":null}},"y":{"field":"lo","type":"quantitative","axis":null},"y2":{"field":"hi"}}},
{"data":{"name":"P"},"transform":[{"filter":"datum.p=='45'"}],"mark":{"type":"errorbar","color":"red","thickness":1.2,"ticks":{"size":8}},"encoding":{"x":{"field":"x","type":"quantitative","axis":null},"y":{"field":"y","type":"quantitative","axis":null},"yError":{"field":"e"}}},
{"data":{"name":"P"},"transform":[{"filter":"datum.p=='45'"}],"mark":{"type":"point","color":"red","size":58,"strokeWidth":1.4,"opacity":1},"encoding":{"x":{"field":"x","type":"quantitative","axis":{"orient":"top","offset":-8,"values":[0,0.5,1,1.5,2,2.5,3],"labels":false,"title":null}},"y":{"field":"y","type":"quantitative","axis":{"orient":"right","offset":-8,"values":[0,0.01,0.02,0.03],"labels":false,"title":null}}}}
]},
{"width":146,"height":151,"data":{"values":[{}]},"resolve":{"axis":{"x":"independent","y":"independent"}},"layer":[
{"mark":{"type":"rule","color":"#999","strokeDash":[1.5,2.5],"strokeWidth":1},"encoding":{"y":{"datum":0,"type":"quantitative","scale":{"domain":[-0.004,0.012],"nice":false,"zero":false},"axis":{"orient":"left","offset":-8,"tickSize":16,"labelPadding":3,"values":[0,0.003,0.006,0.009],"format":".3f","title":null}}}},
{"data":{"name":"C"},"transform":[{"filter":"datum.p=='51'"}],"mark":{"type":"area","fill":"#999","stroke":"black","strokeWidth":1.6,"interpolate":"monotone","clip":true},"encoding":{"x":{"field":"x","type":"quantitative","scale":{"domain":[0,3.1416],"nice":false,"zero":false},"axis":{"orient":"bottom","offset":-8,"values":[0,0.5,1,1.5,2,2.5,3],"labelExpr":"datum.value%1==0?''+datum.value:''","labelOffset":{"condition":[{"test":"datum.value==0","value":2.5},{"test":"datum.value==3","value":-2}],"value":0},"labelPadding":12,"title":"Δϕ","titleFont":"Liberation Serif","titleFontSize":16,"titleFontWeight":"normal","titleColor":"black","titlePadding":7}},"y":{"field":"lo","type":"quantitative","axis":null},"y2":{"field":"hi"}}},
{"data":{"name":"P"},"transform":[{"filter":"datum.p=='51'"}],"mark":{"type":"errorbar","color":"red","thickness":1.2,"ticks":{"size":8}},"encoding":{"x":{"field":"x","type":"quantitative","axis":null},"y":{"field":"y","type":"quantitative","axis":null},"yError":{"field":"e"}}},
{"data":{"name":"P"},"transform":[{"filter":"datum.p=='51'"}],"mark":{"type":"point","color":"red","size":58,"strokeWidth":1.4,"opacity":1},"encoding":{"x":{"field":"x","type":"quantitative","axis":{"orient":"top","offset":-8,"values":[0,0.5,1,1.5,2,2.5,3],"labels":false,"title":null}},"y":{"field":"y","type":"quantitative","axis":{"orient":"right","offset":-8,"values":[0,0.003,0.006,0.009],"labels":false,"title":null}}}},
{"mark":{"type":"text","text":"5 < p"},"encoding":{"x":{"datum":0.31,"axis":null},"y":{"datum":0.0086,"axis":null}}},
{"mark":{"type":"text","text":"asc","fontSize":10,"dx":32,"dy":-9},"encoding":{"x":{"datum":0.31,"axis":null},"y":{"datum":0.0086,"axis":null}}},
{"mark":{"type":"text","text":"T","fontSize":10,"dx":32,"dy":3},"encoding":{"x":{"datum":0.31,"axis":null},"y":{"datum":0.0086,"axis":null}}},
{"mark":{"type":"text","text":"< 6 GeV","dx":51.5},"encoding":{"x":{"datum":0.31,"axis":null},"y":{"datum":0.0086,"axis":null}}}
]},
{"width":146,"height":151,"data":{"values":[{}]},"resolve":{"axis":{"x":"independent","y":"independent"}},"layer":[
{"mark":{"type":"rule","color":"#999","strokeDash":[1.5,2.5],"strokeWidth":1},"encoding":{"y":{"datum":0,"type":"quantitative","scale":{"domain":[-0.004,0.012],"nice":false,"zero":false},"axis":{"orient":"left","offset":-8,"values":[0,0.003,0.006,0.009],"labels":false,"title":null}}}},
{"data":{"name":"C"},"transform":[{"filter":"datum.p=='52'"}],"mark":{"type":"area","fill":"#999","stroke":"black","strokeWidth":1.6,"interpolate":"monotone","clip":true},"encoding":{"x":{"field":"x","type":"quantitative","scale":{"domain":[0,3.1416],"nice":false,"zero":false},"axis":{"orient":"bottom","offset":-8,"values":[0,0.5,1,1.5,2,2.5,3],"labelExpr":"datum.value%1==0?''+datum.value:''","labelOffset":{"condition":[{"test":"datum.value==0","value":2.5},{"test":"datum.value==3","value":-2}],"value":0},"labelPadding":12,"title":"Δϕ","titleFont":"Liberation Serif","titleFontSize":16,"titleFontWeight":"normal","titleColor":"black","titlePadding":7}},"y":{"field":"lo","type":"quantitative","axis":null},"y2":{"field":"hi"}}},
{"data":{"name":"P"},"transform":[{"filter":"datum.p=='52'"}],"mark":{"type":"errorbar","color":"red","thickness":1.2,"ticks":{"size":8}},"encoding":{"x":{"field":"x","type":"quantitative","axis":null},"y":{"field":"y","type":"quantitative","axis":null},"yError":{"field":"e"}}},
{"data":{"name":"P"},"transform":[{"filter":"datum.p=='52'"}],"mark":{"type":"point","color":"red","size":58,"strokeWidth":1.4,"opacity":1},"encoding":{"x":{"field":"x","type":"quantitative","axis":{"orient":"top","offset":-8,"values":[0,0.5,1,1.5,2,2.5,3],"labels":false,"title":null}},"y":{"field":"y","type":"quantitative","axis":{"orient":"right","offset":-8,"values":[0,0.003,0.006,0.009],"labels":false,"title":null}}}}
]},
{"width":146,"height":151,"data":{"values":[{}]},"resolve":{"axis":{"x":"independent","y":"independent"}},"layer":[
{"mark":{"type":"rule","color":"#999","strokeDash":[1.5,2.5],"strokeWidth":1},"encoding":{"y":{"datum":0,"type":"quantitative","scale":{"domain":[-0.004,0.012],"nice":false,"zero":false},"axis":{"orient":"left","offset":-8,"values":[0,0.003,0.006,0.009],"labels":false,"title":null}}}},
{"data":{"name":"C"},"transform":[{"filter":"datum.p=='53'"}],"mark":{"type":"area","fill":"#999","stroke":"black","strokeWidth":1.6,"interpolate":"monotone","clip":true},"encoding":{"x":{"field":"x","type":"quantitative","scale":{"domain":[0,3.1416],"nice":false,"zero":false},"axis":{"orient":"bottom","offset":-8,"values":[0,0.5,1,1.5,2,2.5,3],"labelExpr":"datum.value%1==0?''+datum.value:''","labelOffset":{"condition":[{"test":"datum.value==0","value":2.5},{"test":"datum.value==3","value":-2}],"value":0},"labelPadding":12,"title":"Δϕ","titleFont":"Liberation Serif","titleFontSize":16,"titleFontWeight":"normal","titleColor":"black","titlePadding":7}},"y":{"field":"lo","type":"quantitative","axis":null},"y2":{"field":"hi"}}},
{"data":{"name":"P"},"transform":[{"filter":"datum.p=='53'"}],"mark":{"type":"errorbar","color":"red","thickness":1.2,"ticks":{"size":8}},"encoding":{"x":{"field":"x","type":"quantitative","axis":null},"y":{"field":"y","type":"quantitative","axis":null},"yError":{"field":"e"}}},
{"data":{"name":"P"},"transform":[{"filter":"datum.p=='53'"}],"mark":{"type":"point","color":"red","size":58,"strokeWidth":1.4,"opacity":1},"encoding":{"x":{"field":"x","type":"quantitative","axis":{"orient":"top","offset":-8,"values":[0,0.5,1,1.5,2,2.5,3],"labels":false,"title":null}},"y":{"field":"y","type":"quantitative","axis":{"orient":"right","offset":-8,"values":[0,0.003,0.006,0.009],"labels":false,"title":null}}}}
]},
{"width":146,"height":151,"data":{"values":[{}]},"resolve":{"axis":{"x":"independent","y":"independent"}},"layer":[
{"mark":{"type":"rule","color":"#999","strokeDash":[1.5,2.5],"strokeWidth":1},"encoding":{"y":{"datum":0,"type":"quantitative","scale":{"domain":[-0.004,0.012],"nice":false,"zero":false},"axis":{"orient":"left","offset":-8,"values":[0,0.003,0.006,0.009],"labels":false,"title":null}}}},
{"data":{"name":"C"},"transform":[{"filter":"datum.p=='54'"}],"mark":{"type":"area","fill":"#999","stroke":"black","strokeWidth":1.6,"interpolate":"monotone","clip":true},"encoding":{"x":{"field":"x","type":"quantitative","scale":{"domain":[0,3.1416],"nice":false,"zero":false},"axis":{"orient":"bottom","offset":-8,"values":[0,0.5,1,1.5,2,2.5,3],"labelExpr":"datum.value%1==0?''+datum.value:''","labelOffset":{"condition":[{"test":"datum.value==0","value":2.5},{"test":"datum.value==3","value":-2}],"value":0},"labelPadding":12,"title":"Δϕ","titleFont":"Liberation Serif","titleFontSize":16,"titleFontWeight":"normal","titleColor":"black","titlePadding":7}},"y":{"field":"lo","type":"quantitative","axis":null},"y2":{"field":"hi"}}},
{"data":{"name":"P"},"transform":[{"filter":"datum.p=='54'"}],"mark":{"type":"errorbar","color":"red","thickness":1.2,"ticks":{"size":8}},"encoding":{"x":{"field":"x","type":"quantitative","axis":null},"y":{"field":"y","type":"quantitative","axis":null},"yError":{"field":"e"}}},
{"data":{"name":"P"},"transform":[{"filter":"datum.p=='54'"}],"mark":{"type":"point","color":"red","size":58,"strokeWidth":1.4,"opacity":1},"encoding":{"x":{"field":"x","type":"quantitative","axis":{"orient":"top","offset":-8,"values":[0,0.5,1,1.5,2,2.5,3],"labels":false,"title":null}},"y":{"field":"y","type":"quantitative","axis":{"orient":"right","offset":-8,"values":[0,0.003,0.006,0.009],"labels":false,"title":null}}}}
]},
{"width":146,"height":151,"data":{"values":[{}]},"resolve":{"axis":{"x":"independent","y":"independent"}},"layer":[
{"mark":{"type":"rule","color":"#999","strokeDash":[1.5,2.5],"strokeWidth":1},"encoding":{"y":{"datum":0,"type":"quantitative","scale":{"domain":[-0.004,0.012],"nice":false,"zero":false},"axis":{"orient":"left","offset":-8,"values":[0,0.003,0.006,0.009],"labels":false,"title":null}}}},
{"data":{"name":"C"},"transform":[{"filter":"datum.p=='55'"}],"mark":{"type":"area","fill":"#999","stroke":"black","strokeWidth":1.6,"interpolate":"monotone","clip":true},"encoding":{"x":{"field":"x","type":"quantitative","scale":{"domain":[0,3.1416],"nice":false,"zero":false},"axis":{"orient":"bottom","offset":-8,"values":[0,0.5,1,1.5,2,2.5,3],"labelExpr":"datum.value%1==0?''+datum.value:''","labelOffset":{"condition":[{"test":"datum.value==0","value":2.5},{"test":"datum.value==3","value":-2}],"value":0},"labelPadding":12,"title":"Δϕ","titleFont":"Liberation Serif","titleFontSize":16,"titleFontWeight":"normal","titleColor":"black","titlePadding":7}},"y":{"field":"lo","type":"quantitative","axis":null},"y2":{"field":"hi"}}},
{"data":{"name":"P"},"transform":[{"filter":"datum.p=='55'"}],"mark":{"type":"errorbar","color":"red","thickness":1.2,"ticks":{"size":8}},"encoding":{"x":{"field":"x","type":"quantitative","axis":null},"y":{"field":"y","type":"quantitative","axis":null},"yError":{"field":"e"}}},
{"data":{"name":"P"},"transform":[{"filter":"datum.p=='55'"}],"mark":{"type":"point","color":"red","size":58,"strokeWidth":1.4,"opacity":1},"encoding":{"x":{"field":"x","type":"quantitative","axis":{"orient":"top","offset":-8,"values":[0,0.5,1,1.5,2,2.5,3],"labels":false,"title":null}},"y":{"field":"y","type":"quantitative","axis":{"orient":"right","offset":-8,"values":[0,0.003,0.006,0.009],"labels":false,"title":null}}}}
]}
]}
